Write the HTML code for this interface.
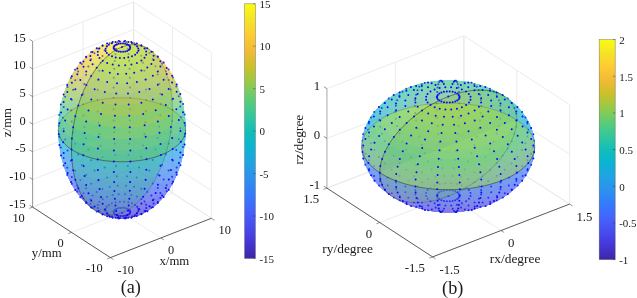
<!DOCTYPE html>
<html><head><meta charset="utf-8"><title>figure</title>
<style>html,body{margin:0;padding:0;background:#fff}svg{display:block}</style></head>
<body>
<svg width="637" height="298" viewBox="0 0 637 298" font-family="'Liberation Serif', 'Times New Roman', serif" fill="#1a1a1a">
<rect width="637" height="298" fill="#fff"/>
<path d="M32.6 207.1L133.6 167.8M133.6 167.8L211.4 218.3M32.6 179.5L133.6 140.2M133.6 140.2L211.4 190.7M32.6 151.8L133.6 112.5M133.6 112.5L211.4 163M32.6 124.2L133.6 84.9M133.6 84.9L211.4 135.4M32.6 96.6L133.6 57.3M133.6 57.3L211.4 107.8M32.6 68.9L133.6 29.6M133.6 29.6L211.4 80.1M32.6 41.3L133.6 2M133.6 2L211.4 52.5M32.6 207.1L32.6 41.3M110.4 257.6L32.6 207.1M83.1 187.5L83.1 21.6M160.9 238L83.1 187.5M133.6 167.8L133.6 2M211.4 218.3L133.6 167.8M211.4 218.3L211.4 52.5M110.4 257.6L211.4 218.3M172.5 193.1L172.5 27.2M71.5 232.4L172.5 193.1M133.6 167.8L133.6 2M32.6 207.1L133.6 167.8" stroke="#e6e6e6" stroke-width="0.75" fill="none"/>
<path d="M32.60 41.29L32.60 207.10" stroke="#8e8e8e" stroke-width="0.9" fill="none"/>
<path d="M32.60 207.10L110.40 257.60L211.35 218.30" stroke="#262626" stroke-width="0.9" fill="none" stroke-opacity="0.8"/>
<path d="M32.60 207.10L29.58 205.14M32.60 179.47L29.58 177.50M32.60 151.83L29.58 149.87M32.60 124.20L29.58 122.23M32.60 96.56L29.58 94.60M32.60 68.93L29.58 66.96M32.60 41.29L29.58 39.33M110.40 257.60L107.05 258.91M71.50 232.35L68.15 233.66M32.60 207.10L29.25 208.41M110.40 257.60L113.42 259.56M160.88 237.95L163.89 239.91M211.35 218.30L214.37 220.26" stroke="#262626" stroke-width="0.7" fill="none" stroke-opacity="0.7"/>
<g opacity="0.42" stroke-width="0.6" stroke-linejoin="round"><g transform="matrix(50.4750 -19.6500 -38.9000 -25.2500 121.975 129.795)"><circle cx="1.5809" cy="2.0513" r="0.0327" fill="#f9f916"/><circle cx="1.5818" cy="2.0524" r="0.0005" fill="#f9f916"/><circle cx="1.5784" cy="2.0480" r="0.0654" fill="#f9f916"/><circle cx="1.5809" cy="2.0513" r="0.0327" fill="#f9f916"/><circle cx="1.5741" cy="2.0425" r="0.0980" fill="#f9f916"/><circle cx="1.5784" cy="2.0480" r="0.0654" fill="#f9f916"/><circle cx="1.5682" cy="2.0349" r="0.1305" fill="#f9f916"/><circle cx="1.5741" cy="2.0425" r="0.0980" fill="#f9f916"/><circle cx="1.5606" cy="2.0250" r="0.1629" fill="#f7f51c"/><circle cx="1.5682" cy="2.0349" r="0.1305" fill="#f7f51c"/><circle cx="1.5514" cy="2.0130" r="0.1951" fill="#f7f51c"/><circle cx="1.5606" cy="2.0250" r="0.1629" fill="#f7f51c"/><circle cx="1.5404" cy="1.9988" r="0.2271" fill="#f7f51c"/><circle cx="1.5514" cy="2.0130" r="0.1951" fill="#f7f51c"/><circle cx="1.5279" cy="1.9825" r="0.2588" fill="#f7f51c"/><circle cx="1.5404" cy="1.9988" r="0.2271" fill="#f7f51c"/><circle cx="1.5136" cy="1.9640" r="0.2903" fill="#f5ed22"/><circle cx="1.5279" cy="1.9825" r="0.2588" fill="#f5ed22"/><circle cx="1.4978" cy="1.9435" r="0.3214" fill="#f5ed22"/><circle cx="1.5136" cy="1.9640" r="0.2903" fill="#f5ed22"/><circle cx="1.4804" cy="1.9209" r="0.3523" fill="#f5ed22"/><circle cx="1.4978" cy="1.9435" r="0.3214" fill="#f5ed22"/><circle cx="1.4614" cy="1.8962" r="0.3827" fill="#f5ed22"/><circle cx="1.4804" cy="1.9209" r="0.3523" fill="#f5ed22"/><circle cx="1.4408" cy="1.8695" r="0.4127" fill="#f5e128"/><circle cx="1.4614" cy="1.8962" r="0.3827" fill="#f5e128"/><circle cx="1.4186" cy="1.8408" r="0.4423" fill="#f5e128"/><circle cx="1.4408" cy="1.8695" r="0.4127" fill="#f5e128"/><circle cx="1.3950" cy="1.8101" r="0.4714" fill="#f5e128"/><circle cx="1.4186" cy="1.8408" r="0.4423" fill="#f5e128"/><circle cx="1.3698" cy="1.7774" r="0.5000" fill="#f5e128"/><circle cx="1.3950" cy="1.8101" r="0.4714" fill="#f5e128"/><circle cx="1.3432" cy="1.7429" r="0.5281" fill="#fbd32f"/><circle cx="1.3698" cy="1.7774" r="0.5000" fill="#fbd32f"/><circle cx="1.3152" cy="1.7065" r="0.5556" fill="#fbd32f"/><circle cx="1.3432" cy="1.7429" r="0.5281" fill="#fbd32f"/><circle cx="1.2857" cy="1.6683" r="0.5825" fill="#fbd32f"/><circle cx="1.3152" cy="1.7065" r="0.5556" fill="#fbd32f"/><circle cx="1.2549" cy="1.6283" r="0.6088" fill="#fbd32f"/><circle cx="1.2857" cy="1.6683" r="0.5825" fill="#fbd32f"/><circle cx="1.2227" cy="1.5865" r="0.6344" fill="#fec239"/><circle cx="1.2549" cy="1.6283" r="0.6088" fill="#fec239"/><circle cx="1.1892" cy="1.5431" r="0.6593" fill="#fec239"/><circle cx="1.2227" cy="1.5865" r="0.6344" fill="#fec239"/><circle cx="1.1545" cy="1.4980" r="0.6836" fill="#fec239"/><circle cx="1.1892" cy="1.5431" r="0.6593" fill="#fec239"/><circle cx="1.1185" cy="1.4513" r="0.7071" fill="#fec239"/><circle cx="1.1545" cy="1.4980" r="0.6836" fill="#fec239"/><circle cx="1.0813" cy="1.4030" r="0.7299" fill="#edba33"/><circle cx="1.1185" cy="1.4513" r="0.7071" fill="#edba33"/><circle cx="1.0429" cy="1.3533" r="0.7518" fill="#edba33"/><circle cx="1.0813" cy="1.4030" r="0.7299" fill="#edba33"/><circle cx="1.0035" cy="1.3020" r="0.7730" fill="#edba33"/><circle cx="1.0429" cy="1.3533" r="0.7518" fill="#edba33"/><circle cx="0.9629" cy="1.2494" r="0.7934" fill="#edba33"/><circle cx="1.0035" cy="1.3020" r="0.7730" fill="#edba33"/><circle cx="0.9213" cy="1.1955" r="0.8128" fill="#c8c129"/><circle cx="0.9629" cy="1.2494" r="0.7934" fill="#c8c129"/><circle cx="0.8788" cy="1.1403" r="0.8315" fill="#c8c129"/><circle cx="0.9213" cy="1.1955" r="0.8128" fill="#c8c129"/><circle cx="0.8353" cy="1.0838" r="0.8492" fill="#c8c129"/><circle cx="0.8788" cy="1.1403" r="0.8315" fill="#c8c129"/><circle cx="0.7909" cy="1.0262" r="0.8660" fill="#c8c129"/><circle cx="0.8353" cy="1.0838" r="0.8492" fill="#c8c129"/><circle cx="0.7456" cy="0.9675" r="0.8819" fill="#97ca48"/><circle cx="0.7909" cy="1.0262" r="0.8660" fill="#97ca48"/><circle cx="0.6996" cy="0.9078" r="0.8969" fill="#97ca48"/><circle cx="0.7456" cy="0.9675" r="0.8819" fill="#97ca48"/><circle cx="0.6528" cy="0.8470" r="0.9109" fill="#97ca48"/><circle cx="0.6996" cy="0.9078" r="0.8969" fill="#97ca48"/><circle cx="0.6053" cy="0.7854" r="0.9239" fill="#97ca48"/><circle cx="0.6528" cy="0.8470" r="0.9109" fill="#97ca48"/><circle cx="0.5572" cy="0.7230" r="0.9359" fill="#5fcd73"/><circle cx="0.6053" cy="0.7854" r="0.9239" fill="#5fcd73"/><circle cx="0.5084" cy="0.6597" r="0.9469" fill="#5fcd73"/><circle cx="0.5572" cy="0.7230" r="0.9359" fill="#5fcd73"/><circle cx="0.4592" cy="0.5958" r="0.9569" fill="#5fcd73"/><circle cx="0.5084" cy="0.6597" r="0.9469" fill="#5fcd73"/><circle cx="0.4094" cy="0.5312" r="0.9659" fill="#5fcd73"/><circle cx="0.4592" cy="0.5958" r="0.9569" fill="#5fcd73"/><circle cx="0.3592" cy="0.4661" r="0.9739" fill="#35c79a"/><circle cx="0.4094" cy="0.5312" r="0.9659" fill="#35c79a"/><circle cx="0.3086" cy="0.4004" r="0.9808" fill="#35c79a"/><circle cx="0.3592" cy="0.4661" r="0.9739" fill="#35c79a"/><circle cx="0.2577" cy="0.3343" r="0.9866" fill="#35c79a"/><circle cx="0.3086" cy="0.4004" r="0.9808" fill="#35c79a"/><circle cx="0.2065" cy="0.2679" r="0.9914" fill="#35c79a"/><circle cx="0.2577" cy="0.3343" r="0.9866" fill="#35c79a"/><circle cx="0.1550" cy="0.2012" r="0.9952" fill="#12beb9"/><circle cx="0.2065" cy="0.2679" r="0.9914" fill="#12beb9"/><circle cx="0.1035" cy="0.1342" r="0.9979" fill="#12beb9"/><circle cx="0.1550" cy="0.2012" r="0.9952" fill="#12beb9"/><circle cx="0.0518" cy="0.0672" r="0.9995" fill="#12beb9"/><circle cx="0.1035" cy="0.1342" r="0.9979" fill="#12beb9"/><circle cx="0.0000" cy="0.0000" r="1.0000" fill="#12beb9"/><circle cx="0.0518" cy="0.0672" r="0.9995" fill="#12beb9"/><circle cx="-0.0518" cy="-0.0672" r="0.9995" fill="#0eb3d4"/><circle cx="0.0000" cy="0.0000" r="1.0000" fill="#0eb3d4"/><circle cx="-0.1035" cy="-0.1342" r="0.9979" fill="#0eb3d4"/><circle cx="-0.0518" cy="-0.0672" r="0.9995" fill="#0eb3d4"/><circle cx="-0.1550" cy="-0.2012" r="0.9952" fill="#0eb3d4"/><circle cx="-0.1035" cy="-0.1342" r="0.9979" fill="#0eb3d4"/><circle cx="-0.2065" cy="-0.2679" r="0.9914" fill="#0eb3d4"/><circle cx="-0.1550" cy="-0.2012" r="0.9952" fill="#0eb3d4"/><circle cx="-0.2577" cy="-0.3343" r="0.9866" fill="#22a2e4"/><circle cx="-0.2065" cy="-0.2679" r="0.9914" fill="#22a2e4"/><circle cx="-0.3086" cy="-0.4004" r="0.9808" fill="#22a2e4"/><circle cx="-0.2577" cy="-0.3343" r="0.9866" fill="#22a2e4"/><circle cx="-0.3592" cy="-0.4661" r="0.9739" fill="#22a2e4"/><circle cx="-0.3086" cy="-0.4004" r="0.9808" fill="#22a2e4"/><circle cx="-0.4094" cy="-0.5312" r="0.9659" fill="#22a2e4"/><circle cx="-0.3592" cy="-0.4661" r="0.9739" fill="#22a2e4"/><circle cx="-0.4592" cy="-0.5958" r="0.9569" fill="#2c8ff1"/><circle cx="-0.4094" cy="-0.5312" r="0.9659" fill="#2c8ff1"/><circle cx="-0.5084" cy="-0.6597" r="0.9469" fill="#2c8ff1"/><circle cx="-0.4592" cy="-0.5958" r="0.9569" fill="#2c8ff1"/><circle cx="-0.5572" cy="-0.7230" r="0.9359" fill="#2c8ff1"/><circle cx="-0.5084" cy="-0.6597" r="0.9469" fill="#2c8ff1"/><circle cx="-0.6053" cy="-0.7854" r="0.9239" fill="#2c8ff1"/><circle cx="-0.5572" cy="-0.7230" r="0.9359" fill="#2c8ff1"/><circle cx="-0.6528" cy="-0.8470" r="0.9109" fill="#347afd"/><circle cx="-0.6053" cy="-0.7854" r="0.9239" fill="#347afd"/><circle cx="-0.6996" cy="-0.9078" r="0.8969" fill="#347afd"/><circle cx="-0.6528" cy="-0.8470" r="0.9109" fill="#347afd"/><circle cx="-0.7456" cy="-0.9675" r="0.8819" fill="#347afd"/><circle cx="-0.6996" cy="-0.9078" r="0.8969" fill="#347afd"/><circle cx="-0.7909" cy="-1.0262" r="0.8660" fill="#347afd"/><circle cx="-0.7456" cy="-0.9675" r="0.8819" fill="#347afd"/><circle cx="-0.8353" cy="-1.0838" r="0.8492" fill="#4465fd"/><circle cx="-0.7909" cy="-1.0262" r="0.8660" fill="#4465fd"/><circle cx="-0.8788" cy="-1.1403" r="0.8315" fill="#4465fd"/><circle cx="-0.8353" cy="-1.0838" r="0.8492" fill="#4465fd"/><circle cx="-0.9213" cy="-1.1955" r="0.8128" fill="#4465fd"/><circle cx="-0.8788" cy="-1.1403" r="0.8315" fill="#4465fd"/><circle cx="-0.9629" cy="-1.2494" r="0.7934" fill="#4465fd"/><circle cx="-0.9213" cy="-1.1955" r="0.8128" fill="#4465fd"/><circle cx="-1.0035" cy="-1.3020" r="0.7730" fill="#4854f5"/><circle cx="-0.9629" cy="-1.2494" r="0.7934" fill="#4854f5"/><circle cx="-1.0429" cy="-1.3533" r="0.7518" fill="#4854f5"/><circle cx="-1.0035" cy="-1.3020" r="0.7730" fill="#4854f5"/><circle cx="-1.0813" cy="-1.4030" r="0.7299" fill="#4854f5"/><circle cx="-1.0429" cy="-1.3533" r="0.7518" fill="#4854f5"/><circle cx="-1.1185" cy="-1.4513" r="0.7071" fill="#4854f5"/><circle cx="-1.0813" cy="-1.4030" r="0.7299" fill="#4854f5"/><circle cx="-1.1545" cy="-1.4980" r="0.6836" fill="#4744e8"/><circle cx="-1.1185" cy="-1.4513" r="0.7071" fill="#4744e8"/><circle cx="-1.1892" cy="-1.5431" r="0.6593" fill="#4744e8"/><circle cx="-1.1545" cy="-1.4980" r="0.6836" fill="#4744e8"/><circle cx="-1.2227" cy="-1.5865" r="0.6344" fill="#4744e8"/><circle cx="-1.1892" cy="-1.5431" r="0.6593" fill="#4744e8"/><circle cx="-1.2549" cy="-1.6283" r="0.6088" fill="#4744e8"/><circle cx="-1.2227" cy="-1.5865" r="0.6344" fill="#4744e8"/><circle cx="-1.2857" cy="-1.6683" r="0.5825" fill="#4538d7"/><circle cx="-1.2549" cy="-1.6283" r="0.6088" fill="#4538d7"/><circle cx="-1.3152" cy="-1.7065" r="0.5556" fill="#4538d7"/><circle cx="-1.2857" cy="-1.6683" r="0.5825" fill="#4538d7"/><circle cx="-1.3432" cy="-1.7429" r="0.5281" fill="#4538d7"/><circle cx="-1.3152" cy="-1.7065" r="0.5556" fill="#4538d7"/><circle cx="-1.3698" cy="-1.7774" r="0.5000" fill="#4538d7"/><circle cx="-1.3432" cy="-1.7429" r="0.5281" fill="#4538d7"/><circle cx="-1.3950" cy="-1.8101" r="0.4714" fill="#4230c4"/><circle cx="-1.3698" cy="-1.7774" r="0.5000" fill="#4230c4"/><circle cx="-1.4186" cy="-1.8408" r="0.4423" fill="#4230c4"/><circle cx="-1.3950" cy="-1.8101" r="0.4714" fill="#4230c4"/><circle cx="-1.4408" cy="-1.8695" r="0.4127" fill="#4230c4"/><circle cx="-1.4186" cy="-1.8408" r="0.4423" fill="#4230c4"/><circle cx="-1.4614" cy="-1.8962" r="0.3827" fill="#4230c4"/><circle cx="-1.4408" cy="-1.8695" r="0.4127" fill="#4230c4"/><circle cx="-1.4804" cy="-1.9209" r="0.3523" fill="#402ab5"/><circle cx="-1.4614" cy="-1.8962" r="0.3827" fill="#402ab5"/><circle cx="-1.4978" cy="-1.9435" r="0.3214" fill="#402ab5"/><circle cx="-1.4804" cy="-1.9209" r="0.3523" fill="#402ab5"/><circle cx="-1.5136" cy="-1.9640" r="0.2903" fill="#402ab5"/><circle cx="-1.4978" cy="-1.9435" r="0.3214" fill="#402ab5"/><circle cx="-1.5279" cy="-1.9825" r="0.2588" fill="#402ab5"/><circle cx="-1.5136" cy="-1.9640" r="0.2903" fill="#402ab5"/><circle cx="-1.5404" cy="-1.9988" r="0.2271" fill="#3e27ac"/><circle cx="-1.5279" cy="-1.9825" r="0.2588" fill="#3e27ac"/><circle cx="-1.5514" cy="-2.0130" r="0.1951" fill="#3e27ac"/><circle cx="-1.5404" cy="-1.9988" r="0.2271" fill="#3e27ac"/><circle cx="-1.5606" cy="-2.0250" r="0.1629" fill="#3e27ac"/><circle cx="-1.5514" cy="-2.0130" r="0.1951" fill="#3e27ac"/><circle cx="-1.5682" cy="-2.0349" r="0.1305" fill="#3e27ac"/><circle cx="-1.5606" cy="-2.0250" r="0.1629" fill="#3e27ac"/><circle cx="-1.5741" cy="-2.0425" r="0.0980" fill="#3e26a8"/><circle cx="-1.5682" cy="-2.0349" r="0.1305" fill="#3e26a8"/><circle cx="-1.5784" cy="-2.0480" r="0.0654" fill="#3e26a8"/><circle cx="-1.5741" cy="-2.0425" r="0.0980" fill="#3e26a8"/><circle cx="-1.5809" cy="-2.0513" r="0.0327" fill="#3e26a8"/><circle cx="-1.5784" cy="-2.0480" r="0.0654" fill="#3e26a8"/><circle cx="-1.5818" cy="-2.0524" r="0.0005" fill="#3e26a8"/><circle cx="-1.5809" cy="-2.0513" r="0.0327" fill="#3e26a8"/></g></g>
<g fill="#0a0af5"><circle cx="122" cy="212.7" r="1.0"/><circle cx="115.4" cy="214.6" r="1.0"/><circle cx="116.9" cy="215.3" r="1.0"/><circle cx="118.8" cy="215.9" r="1.0"/><circle cx="120.9" cy="216.1" r="1.0"/><circle cx="123.1" cy="216.1" r="1.0"/><circle cx="125.2" cy="215.8" r="1.0"/><circle cx="127.1" cy="215.3" r="1.0"/><circle cx="128.6" cy="214.5" r="1.0"/><circle cx="129.7" cy="213.6" r="1.0"/><circle cx="130.2" cy="212.5" r="1.0"/><circle cx="130.2" cy="211.4" r="1.0"/><circle cx="129.7" cy="210.4" r="1.0"/><circle cx="128.6" cy="209.4" r="1.0"/><circle cx="127" cy="208.7" r="1.0"/><circle cx="125.1" cy="208.1" r="1.0"/><circle cx="123" cy="207.8" r="1.0"/><circle cx="120.9" cy="207.9" r="1.0"/><circle cx="118.8" cy="208.1" r="1.0"/><circle cx="116.9" cy="208.7" r="1.0"/><circle cx="115.4" cy="209.5" r="1.0"/><circle cx="114.3" cy="210.4" r="1.0"/><circle cx="113.7" cy="211.5" r="1.0"/><circle cx="113.7" cy="212.6" r="1.0"/><circle cx="114.3" cy="213.6" r="1.0"/><circle cx="108.9" cy="215" r="1.0"/><circle cx="112" cy="216.5" r="1.0"/><circle cx="115.7" cy="217.5" r="1.0"/><circle cx="119.9" cy="218.1" r="1.0"/><circle cx="124.2" cy="218.1" r="1.0"/><circle cx="128.3" cy="217.5" r="1.0"/><circle cx="132" cy="216.4" r="1.0"/><circle cx="135.1" cy="214.9" r="1.0"/><circle cx="137.2" cy="213" r="1.0"/><circle cx="138.3" cy="210.9" r="1.0"/><circle cx="138.3" cy="208.7" r="1.0"/><circle cx="137.2" cy="206.7" r="1.0"/><circle cx="135" cy="204.8" r="1.0"/><circle cx="132" cy="203.3" r="1.0"/><circle cx="128.3" cy="202.2" r="1.0"/><circle cx="124.1" cy="201.7" r="1.0"/><circle cx="119.8" cy="201.7" r="1.0"/><circle cx="115.6" cy="202.2" r="1.0"/><circle cx="111.9" cy="203.3" r="1.0"/><circle cx="108.9" cy="204.9" r="1.0"/><circle cx="106.7" cy="206.8" r="1.0"/><circle cx="105.6" cy="208.9" r="1.0"/><circle cx="105.6" cy="211" r="1.0"/><circle cx="106.8" cy="213.1" r="1.0"/><circle cx="102.7" cy="213.9" r="1.0"/><circle cx="107.2" cy="216.2" r="1.0"/><circle cx="112.7" cy="217.7" r="1.0"/><circle cx="131.4" cy="217.7" r="1.0"/><circle cx="136.9" cy="216.1" r="1.0"/><circle cx="141.4" cy="213.8" r="1.0"/><circle cx="144.5" cy="211" r="1.0"/><circle cx="146.2" cy="207.9" r="1.0"/><circle cx="146.1" cy="204.7" r="1.0"/><circle cx="144.5" cy="201.6" r="1.0"/><circle cx="141.3" cy="198.9" r="1.0"/><circle cx="136.8" cy="196.6" r="1.0"/><circle cx="131.3" cy="195" r="1.0"/><circle cx="125.1" cy="194.2" r="1.0"/><circle cx="118.7" cy="194.3" r="1.0"/><circle cx="112.6" cy="195.1" r="1.0"/><circle cx="107.1" cy="196.7" r="1.0"/><circle cx="102.6" cy="199" r="1.0"/><circle cx="99.4" cy="201.8" r="1.0"/><circle cx="97.8" cy="204.9" r="1.0"/><circle cx="97.8" cy="208.1" r="1.0"/><circle cx="99.5" cy="211.2" r="1.0"/><circle cx="96.7" cy="211.4" r="1.0"/><circle cx="147.3" cy="211.2" r="1.0"/><circle cx="151.4" cy="207.6" r="1.0"/><circle cx="153.6" cy="203.6" r="1.0"/><circle cx="153.6" cy="199.4" r="1.0"/><circle cx="151.4" cy="195.4" r="1.0"/><circle cx="147.2" cy="191.8" r="1.0"/><circle cx="141.3" cy="188.8" r="1.0"/><circle cx="134.1" cy="186.8" r="1.0"/><circle cx="126.1" cy="185.7" r="1.0"/><circle cx="117.7" cy="185.7" r="1.0"/><circle cx="109.7" cy="186.9" r="1.0"/><circle cx="102.5" cy="189" r="1.0"/><circle cx="96.7" cy="191.9" r="1.0"/><circle cx="92.5" cy="195.6" r="1.0"/><circle cx="90.4" cy="199.6" r="1.0"/><circle cx="90.4" cy="203.8" r="1.0"/><circle cx="92.6" cy="207.8" r="1.0"/><circle cx="157.8" cy="202.9" r="1.0"/><circle cx="160.4" cy="198" r="1.0"/><circle cx="160.4" cy="192.9" r="1.0"/><circle cx="157.8" cy="188" r="1.0"/><circle cx="152.7" cy="183.6" r="1.0"/><circle cx="145.5" cy="180" r="1.0"/><circle cx="136.7" cy="177.5" r="1.0"/><circle cx="127" cy="176.2" r="1.0"/><circle cx="116.8" cy="176.3" r="1.0"/><circle cx="107.1" cy="177.6" r="1.0"/><circle cx="98.3" cy="180.2" r="1.0"/><circle cx="91.1" cy="183.8" r="1.0"/><circle cx="86.1" cy="188.2" r="1.0"/><circle cx="83.5" cy="193.2" r="1.0"/><circle cx="83.5" cy="198.2" r="1.0"/><circle cx="86.2" cy="203.1" r="1.0"/><circle cx="163.6" cy="196.9" r="1.0"/><circle cx="166.7" cy="191.2" r="1.0"/><circle cx="166.6" cy="185.3" r="1.0"/><circle cx="163.6" cy="179.6" r="1.0"/><circle cx="157.7" cy="174.5" r="1.0"/><circle cx="149.3" cy="170.4" r="1.0"/><circle cx="139.1" cy="167.5" r="1.0"/><circle cx="127.8" cy="166" r="1.0"/><circle cx="116" cy="166" r="1.0"/><circle cx="104.6" cy="167.6" r="1.0"/><circle cx="94.5" cy="170.6" r="1.0"/><circle cx="86.2" cy="174.8" r="1.0"/><circle cx="80.3" cy="179.9" r="1.0"/><circle cx="77.3" cy="185.6" r="1.0"/><circle cx="77.3" cy="191.5" r="1.0"/><circle cx="80.4" cy="197.2" r="1.0"/><circle cx="172.1" cy="183.4" r="1.0"/><circle cx="172.1" cy="176.8" r="1.0"/><circle cx="168.6" cy="170.4" r="1.0"/><circle cx="162" cy="164.7" r="1.0"/><circle cx="152.7" cy="160" r="1.0"/><circle cx="141.2" cy="156.7" r="1.0"/><circle cx="128.5" cy="155.1" r="1.0"/><circle cx="115.3" cy="155.1" r="1.0"/><circle cx="102.5" cy="156.9" r="1.0"/><circle cx="91.1" cy="160.2" r="1.0"/><circle cx="81.8" cy="164.9" r="1.0"/><circle cx="75.2" cy="170.7" r="1.0"/><circle cx="71.8" cy="177.1" r="1.0"/><circle cx="71.9" cy="183.7" r="1.0"/><circle cx="176.7" cy="174.7" r="1.0"/><circle cx="176.7" cy="167.4" r="1.0"/><circle cx="172.9" cy="160.5" r="1.0"/><circle cx="165.7" cy="154.2" r="1.0"/><circle cx="155.5" cy="149.2" r="1.0"/><circle cx="143" cy="145.6" r="1.0"/><circle cx="129.1" cy="143.8" r="1.0"/><circle cx="114.7" cy="143.8" r="1.0"/><circle cx="100.7" cy="145.7" r="1.0"/><circle cx="88.3" cy="149.4" r="1.0"/><circle cx="78.1" cy="154.5" r="1.0"/><circle cx="70.9" cy="160.8" r="1.0"/><circle cx="67.2" cy="167.8" r="1.0"/><circle cx="67.3" cy="175.1" r="1.0"/><circle cx="180.4" cy="165.2" r="1.0"/><circle cx="180.3" cy="157.5" r="1.0"/><circle cx="176.3" cy="150" r="1.0"/><circle cx="168.6" cy="143.4" r="1.0"/><circle cx="157.7" cy="137.9" r="1.0"/><circle cx="144.4" cy="134.1" r="1.0"/><circle cx="129.5" cy="132.2" r="1.0"/><circle cx="114.2" cy="132.2" r="1.0"/><circle cx="99.3" cy="134.3" r="1.0"/><circle cx="86" cy="138.2" r="1.0"/><circle cx="75.2" cy="143.7" r="1.0"/><circle cx="67.5" cy="150.4" r="1.0"/><circle cx="63.6" cy="157.9" r="1.0"/><circle cx="63.6" cy="165.6" r="1.0"/><circle cx="183" cy="147" r="1.0"/><circle cx="178.8" cy="139.2" r="1.0"/><circle cx="170.7" cy="132.3" r="1.0"/><circle cx="159.3" cy="126.6" r="1.0"/><circle cx="145.4" cy="122.6" r="1.0"/><circle cx="129.9" cy="120.6" r="1.0"/><circle cx="113.8" cy="120.6" r="1.0"/><circle cx="98.3" cy="122.8" r="1.0"/><circle cx="84.4" cy="126.9" r="1.0"/><circle cx="73.1" cy="132.6" r="1.0"/><circle cx="65.1" cy="139.6" r="1.0"/><circle cx="60.9" cy="147.4" r="1.0"/><circle cx="184.6" cy="136.3" r="1.0"/><circle cx="180.3" cy="128.3" r="1.0"/><circle cx="172" cy="121.1" r="1.0"/><circle cx="160.3" cy="115.3" r="1.0"/><circle cx="146" cy="111.2" r="1.0"/><circle cx="130.1" cy="109.1" r="1.0"/><circle cx="113.6" cy="109.2" r="1.0"/><circle cx="97.7" cy="111.4" r="1.0"/><circle cx="83.4" cy="115.6" r="1.0"/><circle cx="71.8" cy="121.5" r="1.0"/><circle cx="63.6" cy="128.7" r="1.0"/><circle cx="59.3" cy="136.7" r="1.0"/><circle cx="185.1" cy="125.4" r="1.0"/><circle cx="180.8" cy="117.3" r="1.0"/><circle cx="172.5" cy="110.1" r="1.0"/><circle cx="160.7" cy="104.3" r="1.0"/><circle cx="146.2" cy="100.2" r="1.0"/><circle cx="130.2" cy="98" r="1.0"/><circle cx="113.5" cy="98.1" r="1.0"/><circle cx="97.5" cy="100.3" r="1.0"/><circle cx="83.1" cy="104.5" r="1.0"/><circle cx="71.3" cy="110.5" r="1.0"/><circle cx="63" cy="117.8" r="1.0"/><circle cx="58.8" cy="125.8" r="1.0"/><circle cx="184.6" cy="114.6" r="1.0"/><circle cx="180.3" cy="106.6" r="1.0"/><circle cx="172" cy="99.5" r="1.0"/><circle cx="160.3" cy="93.7" r="1.0"/><circle cx="146" cy="89.6" r="1.0"/><circle cx="130.1" cy="87.5" r="1.0"/><circle cx="113.6" cy="87.6" r="1.0"/><circle cx="97.7" cy="89.8" r="1.0"/><circle cx="83.4" cy="93.9" r="1.0"/><circle cx="71.8" cy="99.8" r="1.0"/><circle cx="63.6" cy="107" r="1.0"/><circle cx="59.3" cy="115" r="1.0"/><circle cx="183" cy="104.1" r="1.0"/><circle cx="178.8" cy="96.3" r="1.0"/><circle cx="170.7" cy="89.4" r="1.0"/><circle cx="159.3" cy="83.7" r="1.0"/><circle cx="145.4" cy="79.7" r="1.0"/><circle cx="129.9" cy="77.7" r="1.0"/><circle cx="113.8" cy="77.7" r="1.0"/><circle cx="98.3" cy="79.9" r="1.0"/><circle cx="84.4" cy="83.9" r="1.0"/><circle cx="73.1" cy="89.7" r="1.0"/><circle cx="65.1" cy="96.7" r="1.0"/><circle cx="60.9" cy="104.5" r="1.0"/><circle cx="176.3" cy="86.6" r="1.0"/><circle cx="168.6" cy="79.9" r="1.0"/><circle cx="157.7" cy="74.5" r="1.0"/><circle cx="144.4" cy="70.7" r="1.0"/><circle cx="129.5" cy="68.7" r="1.0"/><circle cx="114.2" cy="68.8" r="1.0"/><circle cx="99.3" cy="70.8" r="1.0"/><circle cx="86" cy="74.7" r="1.0"/><circle cx="75.2" cy="80.2" r="1.0"/><circle cx="67.5" cy="86.9" r="1.0"/><circle cx="172.9" cy="77.6" r="1.0"/><circle cx="165.7" cy="71.3" r="1.0"/><circle cx="155.5" cy="66.2" r="1.0"/><circle cx="143" cy="62.7" r="1.0"/><circle cx="129.1" cy="60.8" r="1.0"/><circle cx="114.7" cy="60.9" r="1.0"/><circle cx="100.7" cy="62.8" r="1.0"/><circle cx="88.3" cy="66.5" r="1.0"/><circle cx="78.1" cy="71.6" r="1.0"/><circle cx="70.9" cy="77.9" r="1.0"/><circle cx="168.6" cy="69.5" r="1.0"/><circle cx="162" cy="63.7" r="1.0"/><circle cx="152.7" cy="59.1" r="1.0"/><circle cx="141.2" cy="55.8" r="1.0"/><circle cx="128.5" cy="54.1" r="1.0"/><circle cx="115.3" cy="54.2" r="1.0"/><circle cx="102.5" cy="55.9" r="1.0"/><circle cx="91.1" cy="59.3" r="1.0"/><circle cx="81.8" cy="64" r="1.0"/><circle cx="75.2" cy="69.8" r="1.0"/><circle cx="157.7" cy="57.3" r="1.0"/><circle cx="149.3" cy="53.1" r="1.0"/><circle cx="139.1" cy="50.2" r="1.0"/><circle cx="127.8" cy="48.7" r="1.0"/><circle cx="116" cy="48.8" r="1.0"/><circle cx="104.6" cy="50.3" r="1.0"/><circle cx="94.5" cy="53.3" r="1.0"/><circle cx="86.2" cy="57.5" r="1.0"/><circle cx="152.7" cy="52.1" r="1.0"/><circle cx="145.5" cy="48.5" r="1.0"/><circle cx="136.7" cy="46" r="1.0"/><circle cx="127" cy="44.7" r="1.0"/><circle cx="116.8" cy="44.7" r="1.0"/><circle cx="107.1" cy="46.1" r="1.0"/><circle cx="98.3" cy="48.7" r="1.0"/><circle cx="91.1" cy="52.3" r="1.0"/><circle cx="141.3" cy="45.2" r="1.0"/><circle cx="134.1" cy="43.2" r="1.0"/><circle cx="126.1" cy="42.1" r="1.0"/><circle cx="117.7" cy="42.2" r="1.0"/><circle cx="109.7" cy="43.3" r="1.0"/><circle cx="102.5" cy="45.4" r="1.0"/><circle cx="125.1" cy="41.1" r="1.0"/><circle cx="118.7" cy="41.1" r="1.0"/></g>
<polygon points="172.5,110.1 166.9,107 160.7,104.3 153.7,102 146.2,100.2 138.3,98.8 130.2,98 121.8,97.8 113.5,98.1 105.4,98.9 97.5,100.3 90,102.2 83.1,104.5 76.8,107.3 71.3,110.5 66.7,114 63,117.8 60.4,121.7 58.8,125.8 58.2,130 58.8,134.2 60.5,138.3 63.2,142.2 66.9,146 71.5,149.4" fill="#9fc942" fill-opacity="0.48"/><polygon points="172.5,110.1 172,99.5 170.7,89.4 168.6,79.9 165.7,71.3 162,63.7 157.7,57.3 152.7,52.1 147.2,48.2 141.3,45.7 135,44.6 128.6,45 122,46.9 115.4,50.2 108.9,54.8 102.7,60.7 96.7,67.8 91.2,76 86.3,85.1 81.9,94.9 78.3,105.4 75.3,116.2 73.2,127.3 71.9,138.5 71.5,149.4 71.9,160.1 73.2,170.2 75.3,179.7 78.3,188.3 81.9,195.9 86.3,202.3 91.2,207.5 96.7,211.4 102.7,213.9 108.9,215 115.4,214.6 122,212.7 128.6,209.4 135,204.8 141.3,198.9 147.2,191.8 152.7,183.6 157.7,174.5 162,164.7 165.7,154.2 168.6,143.4 170.7,132.3 172,121.1" fill="#58cc79" fill-opacity="0.46"/><polygon points="172.3,109.9 177.1,113.6 180.8,117.3 183.5,121.3 185.1,125.4 185.7,129.6 185.2,133.8 183.6,137.9 180.9,141.8 177.2,145.6 172.6,149.1 167.1,152.3 160.9,155 154,157.4 146.5,159.3 138.6,160.6 130.4,161.5 122.1,161.8 113.8,161.5 105.6,160.8 97.7,159.4 90.2,157.6 83.3,155.3 77,152.6 71.4,149.2" fill="#9fc942" fill-opacity="0.48"/>
<path d="M172.5 110.1L172.3 104.8M172.3 104.8L172 99.5M172 99.5L171.5 94.3M171.5 94.3L170.7 89.4M170.7 89.4L169.8 84.5M169.8 84.5L168.6 79.9M168.6 79.9L167.2 75.5M167.2 75.5L165.7 71.3M165.7 71.3L163.9 67.4M163.9 67.4L162 63.7M162 63.7L159.9 60.4M159.9 60.4L157.7 57.3M157.7 57.3L155.3 54.5M155.3 54.5L152.7 52.1M152.7 52.1L150 49.9M93.9 209.6L96.7 211.4M96.7 211.4L99.7 212.8M99.7 212.8L102.7 213.9M102.7 213.9L105.8 214.6M105.8 214.6L108.9 215M108.9 215L112.1 214.9M112.1 214.9L115.4 214.6M115.4 214.6L118.7 213.8M118.7 213.8L122 212.7M122 212.7L125.3 211.2M125.3 211.2L128.6 209.4M128.6 209.4L131.8 207.3M131.8 207.3L135 204.8M135 204.8L138.2 202M138.2 202L141.3 198.9M141.3 198.9L144.3 195.5M144.3 195.5L147.2 191.8M147.2 191.8L150 187.8M150 187.8L152.7 183.6M152.7 183.6L155.3 179.2M155.3 179.2L157.7 174.5M157.7 174.5L159.9 169.7M159.9 169.7L162 164.7M162 164.7L163.9 159.5M163.9 159.5L165.7 154.2M165.7 154.2L167.2 148.8M167.2 148.8L168.6 143.4M168.6 143.4L169.8 137.8M169.8 137.8L170.7 132.3M170.7 132.3L171.5 126.7M171.5 126.7L172 121.1M172 121.1L172.3 115.6M172.3 115.6L172.5 110.1M172.5 110.1L169.8 108.5M169.8 108.5L166.9 107M166.9 107L163.9 105.6M163.9 105.6L160.7 104.3M160.7 104.3L157.3 103.1M157.3 103.1L153.7 102M153.7 102L150 101M150 101L146.2 100.2M146.2 100.2L142.3 99.4M142.3 99.4L138.3 98.8M138.3 98.8L134.3 98.4M134.3 98.4L130.2 98M130.2 98L126 97.9M126 97.9L121.8 97.8M121.8 97.8L117.7 97.9M117.7 97.9L113.5 98.1M113.5 98.1L109.4 98.5M109.4 98.5L105.4 98.9M105.4 98.9L101.4 99.6M101.4 99.6L97.5 100.3M97.5 100.3L93.7 101.2M93.7 101.2L90 102.2M90 102.2L86.5 103.3M86.5 103.3L83.1 104.5M83.1 104.5L79.9 105.9M79.9 105.9L76.8 107.3M76.8 107.3L74 108.9M74 108.9L71.3 110.5M71.3 110.5L68.9 112.2M68.9 112.2L66.7 114M66.7 114L64.8 115.8M64.8 115.8L63 117.8M63 117.8L61.6 119.7M61.6 119.7L60.4 121.7M60.4 121.7L59.4 123.8M59.4 123.8L58.8 125.8M58.8 125.8L58.4 127.9M58.4 127.9L58.2 130M185.7 129.6L185.6 127.5M185.6 127.5L185.1 125.4M185.1 125.4L184.4 123.3M184.4 123.3L183.5 121.3M183.5 121.3L182.3 119.3M182.3 119.3L180.8 117.3M180.8 117.3L179.1 115.4M179.1 115.4L177.1 113.6M177.1 113.6L174.9 111.8M174.9 111.8L172.5 110.1" stroke="rgba(50,55,20,0.5)" stroke-width="0.7" fill="none"/>
<g opacity="0.42" stroke-width="0.6" stroke-linejoin="round"><g transform="matrix(50.4750 -19.6500 -38.9000 -25.2500 121.975 129.795)"><circle cx="-1.5818" cy="-2.0524" r="0.0005" fill="#3e26a8"/><circle cx="-1.5809" cy="-2.0513" r="0.0327" fill="#3e26a8"/><circle cx="-1.5809" cy="-2.0513" r="0.0327" fill="#3e26a8"/><circle cx="-1.5784" cy="-2.0480" r="0.0654" fill="#3e26a8"/><circle cx="-1.5784" cy="-2.0480" r="0.0654" fill="#3e26a8"/><circle cx="-1.5741" cy="-2.0425" r="0.0980" fill="#3e26a8"/><circle cx="-1.5741" cy="-2.0425" r="0.0980" fill="#3e26a8"/><circle cx="-1.5682" cy="-2.0349" r="0.1305" fill="#3e26a8"/><circle cx="-1.5682" cy="-2.0349" r="0.1305" fill="#3e27ac"/><circle cx="-1.5606" cy="-2.0250" r="0.1629" fill="#3e27ac"/><circle cx="-1.5606" cy="-2.0250" r="0.1629" fill="#3e27ac"/><circle cx="-1.5514" cy="-2.0130" r="0.1951" fill="#3e27ac"/><circle cx="-1.5514" cy="-2.0130" r="0.1951" fill="#3e27ac"/><circle cx="-1.5404" cy="-1.9988" r="0.2271" fill="#3e27ac"/><circle cx="-1.5404" cy="-1.9988" r="0.2271" fill="#3e27ac"/><circle cx="-1.5279" cy="-1.9825" r="0.2588" fill="#3e27ac"/><circle cx="-1.5279" cy="-1.9825" r="0.2588" fill="#402ab5"/><circle cx="-1.5136" cy="-1.9640" r="0.2903" fill="#402ab5"/><circle cx="-1.5136" cy="-1.9640" r="0.2903" fill="#402ab5"/><circle cx="-1.4978" cy="-1.9435" r="0.3214" fill="#402ab5"/><circle cx="-1.4978" cy="-1.9435" r="0.3214" fill="#402ab5"/><circle cx="-1.4804" cy="-1.9209" r="0.3523" fill="#402ab5"/><circle cx="-1.4804" cy="-1.9209" r="0.3523" fill="#402ab5"/><circle cx="-1.4614" cy="-1.8962" r="0.3827" fill="#402ab5"/><circle cx="-1.4614" cy="-1.8962" r="0.3827" fill="#4230c4"/><circle cx="-1.4408" cy="-1.8695" r="0.4127" fill="#4230c4"/><circle cx="-1.4408" cy="-1.8695" r="0.4127" fill="#4230c4"/><circle cx="-1.4186" cy="-1.8408" r="0.4423" fill="#4230c4"/><circle cx="-1.4186" cy="-1.8408" r="0.4423" fill="#4230c4"/><circle cx="-1.3950" cy="-1.8101" r="0.4714" fill="#4230c4"/><circle cx="-1.3950" cy="-1.8101" r="0.4714" fill="#4230c4"/><circle cx="-1.3698" cy="-1.7774" r="0.5000" fill="#4230c4"/><circle cx="-1.3698" cy="-1.7774" r="0.5000" fill="#4538d7"/><circle cx="-1.3432" cy="-1.7429" r="0.5281" fill="#4538d7"/><circle cx="-1.3432" cy="-1.7429" r="0.5281" fill="#4538d7"/><circle cx="-1.3152" cy="-1.7065" r="0.5556" fill="#4538d7"/><circle cx="-1.3152" cy="-1.7065" r="0.5556" fill="#4538d7"/><circle cx="-1.2857" cy="-1.6683" r="0.5825" fill="#4538d7"/><circle cx="-1.2857" cy="-1.6683" r="0.5825" fill="#4538d7"/><circle cx="-1.2549" cy="-1.6283" r="0.6088" fill="#4538d7"/><circle cx="-1.2549" cy="-1.6283" r="0.6088" fill="#4744e8"/><circle cx="-1.2227" cy="-1.5865" r="0.6344" fill="#4744e8"/><circle cx="-1.2227" cy="-1.5865" r="0.6344" fill="#4744e8"/><circle cx="-1.1892" cy="-1.5431" r="0.6593" fill="#4744e8"/><circle cx="-1.1892" cy="-1.5431" r="0.6593" fill="#4744e8"/><circle cx="-1.1545" cy="-1.4980" r="0.6836" fill="#4744e8"/><circle cx="-1.1545" cy="-1.4980" r="0.6836" fill="#4744e8"/><circle cx="-1.1185" cy="-1.4513" r="0.7071" fill="#4744e8"/><circle cx="-1.1185" cy="-1.4513" r="0.7071" fill="#4854f5"/><circle cx="-1.0813" cy="-1.4030" r="0.7299" fill="#4854f5"/><circle cx="-1.0813" cy="-1.4030" r="0.7299" fill="#4854f5"/><circle cx="-1.0429" cy="-1.3533" r="0.7518" fill="#4854f5"/><circle cx="-1.0429" cy="-1.3533" r="0.7518" fill="#4854f5"/><circle cx="-1.0035" cy="-1.3020" r="0.7730" fill="#4854f5"/><circle cx="-1.0035" cy="-1.3020" r="0.7730" fill="#4854f5"/><circle cx="-0.9629" cy="-1.2494" r="0.7934" fill="#4854f5"/><circle cx="-0.9629" cy="-1.2494" r="0.7934" fill="#4465fd"/><circle cx="-0.9213" cy="-1.1955" r="0.8128" fill="#4465fd"/><circle cx="-0.9213" cy="-1.1955" r="0.8128" fill="#4465fd"/><circle cx="-0.8788" cy="-1.1403" r="0.8315" fill="#4465fd"/><circle cx="-0.8788" cy="-1.1403" r="0.8315" fill="#4465fd"/><circle cx="-0.8353" cy="-1.0838" r="0.8492" fill="#4465fd"/><circle cx="-0.8353" cy="-1.0838" r="0.8492" fill="#4465fd"/><circle cx="-0.7909" cy="-1.0262" r="0.8660" fill="#4465fd"/><circle cx="-0.7909" cy="-1.0262" r="0.8660" fill="#347afd"/><circle cx="-0.7456" cy="-0.9675" r="0.8819" fill="#347afd"/><circle cx="-0.7456" cy="-0.9675" r="0.8819" fill="#347afd"/><circle cx="-0.6996" cy="-0.9078" r="0.8969" fill="#347afd"/><circle cx="-0.6996" cy="-0.9078" r="0.8969" fill="#347afd"/><circle cx="-0.6528" cy="-0.8470" r="0.9109" fill="#347afd"/><circle cx="-0.6528" cy="-0.8470" r="0.9109" fill="#347afd"/><circle cx="-0.6053" cy="-0.7854" r="0.9239" fill="#347afd"/><circle cx="-0.6053" cy="-0.7854" r="0.9239" fill="#2c8ff1"/><circle cx="-0.5572" cy="-0.7230" r="0.9359" fill="#2c8ff1"/><circle cx="-0.5572" cy="-0.7230" r="0.9359" fill="#2c8ff1"/><circle cx="-0.5084" cy="-0.6597" r="0.9469" fill="#2c8ff1"/><circle cx="-0.5084" cy="-0.6597" r="0.9469" fill="#2c8ff1"/><circle cx="-0.4592" cy="-0.5958" r="0.9569" fill="#2c8ff1"/><circle cx="-0.4592" cy="-0.5958" r="0.9569" fill="#2c8ff1"/><circle cx="-0.4094" cy="-0.5312" r="0.9659" fill="#2c8ff1"/><circle cx="-0.4094" cy="-0.5312" r="0.9659" fill="#22a2e4"/><circle cx="-0.3592" cy="-0.4661" r="0.9739" fill="#22a2e4"/><circle cx="-0.3592" cy="-0.4661" r="0.9739" fill="#22a2e4"/><circle cx="-0.3086" cy="-0.4004" r="0.9808" fill="#22a2e4"/><circle cx="-0.3086" cy="-0.4004" r="0.9808" fill="#22a2e4"/><circle cx="-0.2577" cy="-0.3343" r="0.9866" fill="#22a2e4"/><circle cx="-0.2577" cy="-0.3343" r="0.9866" fill="#22a2e4"/><circle cx="-0.2065" cy="-0.2679" r="0.9914" fill="#22a2e4"/><circle cx="-0.2065" cy="-0.2679" r="0.9914" fill="#0eb3d4"/><circle cx="-0.1550" cy="-0.2012" r="0.9952" fill="#0eb3d4"/><circle cx="-0.1550" cy="-0.2012" r="0.9952" fill="#0eb3d4"/><circle cx="-0.1035" cy="-0.1342" r="0.9979" fill="#0eb3d4"/><circle cx="-0.1035" cy="-0.1342" r="0.9979" fill="#0eb3d4"/><circle cx="-0.0518" cy="-0.0672" r="0.9995" fill="#0eb3d4"/><circle cx="-0.0518" cy="-0.0672" r="0.9995" fill="#0eb3d4"/><circle cx="0.0000" cy="0.0000" r="1.0000" fill="#0eb3d4"/><circle cx="0.0000" cy="0.0000" r="1.0000" fill="#12beb9"/><circle cx="0.0518" cy="0.0672" r="0.9995" fill="#12beb9"/><circle cx="0.0518" cy="0.0672" r="0.9995" fill="#12beb9"/><circle cx="0.1035" cy="0.1342" r="0.9979" fill="#12beb9"/><circle cx="0.1035" cy="0.1342" r="0.9979" fill="#12beb9"/><circle cx="0.1550" cy="0.2012" r="0.9952" fill="#12beb9"/><circle cx="0.1550" cy="0.2012" r="0.9952" fill="#12beb9"/><circle cx="0.2065" cy="0.2679" r="0.9914" fill="#12beb9"/><circle cx="0.2065" cy="0.2679" r="0.9914" fill="#35c79a"/><circle cx="0.2577" cy="0.3343" r="0.9866" fill="#35c79a"/><circle cx="0.2577" cy="0.3343" r="0.9866" fill="#35c79a"/><circle cx="0.3086" cy="0.4004" r="0.9808" fill="#35c79a"/><circle cx="0.3086" cy="0.4004" r="0.9808" fill="#35c79a"/><circle cx="0.3592" cy="0.4661" r="0.9739" fill="#35c79a"/><circle cx="0.3592" cy="0.4661" r="0.9739" fill="#35c79a"/><circle cx="0.4094" cy="0.5312" r="0.9659" fill="#35c79a"/><circle cx="0.4094" cy="0.5312" r="0.9659" fill="#5fcd73"/><circle cx="0.4592" cy="0.5958" r="0.9569" fill="#5fcd73"/><circle cx="0.4592" cy="0.5958" r="0.9569" fill="#5fcd73"/><circle cx="0.5084" cy="0.6597" r="0.9469" fill="#5fcd73"/><circle cx="0.5084" cy="0.6597" r="0.9469" fill="#5fcd73"/><circle cx="0.5572" cy="0.7230" r="0.9359" fill="#5fcd73"/><circle cx="0.5572" cy="0.7230" r="0.9359" fill="#5fcd73"/><circle cx="0.6053" cy="0.7854" r="0.9239" fill="#5fcd73"/><circle cx="0.6053" cy="0.7854" r="0.9239" fill="#97ca48"/><circle cx="0.6528" cy="0.8470" r="0.9109" fill="#97ca48"/><circle cx="0.6528" cy="0.8470" r="0.9109" fill="#97ca48"/><circle cx="0.6996" cy="0.9078" r="0.8969" fill="#97ca48"/><circle cx="0.6996" cy="0.9078" r="0.8969" fill="#97ca48"/><circle cx="0.7456" cy="0.9675" r="0.8819" fill="#97ca48"/><circle cx="0.7456" cy="0.9675" r="0.8819" fill="#97ca48"/><circle cx="0.7909" cy="1.0262" r="0.8660" fill="#97ca48"/><circle cx="0.7909" cy="1.0262" r="0.8660" fill="#c8c129"/><circle cx="0.8353" cy="1.0838" r="0.8492" fill="#c8c129"/><circle cx="0.8353" cy="1.0838" r="0.8492" fill="#c8c129"/><circle cx="0.8788" cy="1.1403" r="0.8315" fill="#c8c129"/><circle cx="0.8788" cy="1.1403" r="0.8315" fill="#c8c129"/><circle cx="0.9213" cy="1.1955" r="0.8128" fill="#c8c129"/><circle cx="0.9213" cy="1.1955" r="0.8128" fill="#c8c129"/><circle cx="0.9629" cy="1.2494" r="0.7934" fill="#c8c129"/><circle cx="0.9629" cy="1.2494" r="0.7934" fill="#edba33"/><circle cx="1.0035" cy="1.3020" r="0.7730" fill="#edba33"/><circle cx="1.0035" cy="1.3020" r="0.7730" fill="#edba33"/><circle cx="1.0429" cy="1.3533" r="0.7518" fill="#edba33"/><circle cx="1.0429" cy="1.3533" r="0.7518" fill="#edba33"/><circle cx="1.0813" cy="1.4030" r="0.7299" fill="#edba33"/><circle cx="1.0813" cy="1.4030" r="0.7299" fill="#edba33"/><circle cx="1.1185" cy="1.4513" r="0.7071" fill="#edba33"/><circle cx="1.1185" cy="1.4513" r="0.7071" fill="#fec239"/><circle cx="1.1545" cy="1.4980" r="0.6836" fill="#fec239"/><circle cx="1.1545" cy="1.4980" r="0.6836" fill="#fec239"/><circle cx="1.1892" cy="1.5431" r="0.6593" fill="#fec239"/><circle cx="1.1892" cy="1.5431" r="0.6593" fill="#fec239"/><circle cx="1.2227" cy="1.5865" r="0.6344" fill="#fec239"/><circle cx="1.2227" cy="1.5865" r="0.6344" fill="#fec239"/><circle cx="1.2549" cy="1.6283" r="0.6088" fill="#fec239"/><circle cx="1.2549" cy="1.6283" r="0.6088" fill="#fbd32f"/><circle cx="1.2857" cy="1.6683" r="0.5825" fill="#fbd32f"/><circle cx="1.2857" cy="1.6683" r="0.5825" fill="#fbd32f"/><circle cx="1.3152" cy="1.7065" r="0.5556" fill="#fbd32f"/><circle cx="1.3152" cy="1.7065" r="0.5556" fill="#fbd32f"/><circle cx="1.3432" cy="1.7429" r="0.5281" fill="#fbd32f"/><circle cx="1.3432" cy="1.7429" r="0.5281" fill="#fbd32f"/><circle cx="1.3698" cy="1.7774" r="0.5000" fill="#fbd32f"/><circle cx="1.3698" cy="1.7774" r="0.5000" fill="#f5e128"/><circle cx="1.3950" cy="1.8101" r="0.4714" fill="#f5e128"/><circle cx="1.3950" cy="1.8101" r="0.4714" fill="#f5e128"/><circle cx="1.4186" cy="1.8408" r="0.4423" fill="#f5e128"/><circle cx="1.4186" cy="1.8408" r="0.4423" fill="#f5e128"/><circle cx="1.4408" cy="1.8695" r="0.4127" fill="#f5e128"/><circle cx="1.4408" cy="1.8695" r="0.4127" fill="#f5e128"/><circle cx="1.4614" cy="1.8962" r="0.3827" fill="#f5e128"/><circle cx="1.4614" cy="1.8962" r="0.3827" fill="#f5ed22"/><circle cx="1.4804" cy="1.9209" r="0.3523" fill="#f5ed22"/><circle cx="1.4804" cy="1.9209" r="0.3523" fill="#f5ed22"/><circle cx="1.4978" cy="1.9435" r="0.3214" fill="#f5ed22"/><circle cx="1.4978" cy="1.9435" r="0.3214" fill="#f5ed22"/><circle cx="1.5136" cy="1.9640" r="0.2903" fill="#f5ed22"/><circle cx="1.5136" cy="1.9640" r="0.2903" fill="#f5ed22"/><circle cx="1.5279" cy="1.9825" r="0.2588" fill="#f5ed22"/><circle cx="1.5279" cy="1.9825" r="0.2588" fill="#f7f51c"/><circle cx="1.5404" cy="1.9988" r="0.2271" fill="#f7f51c"/><circle cx="1.5404" cy="1.9988" r="0.2271" fill="#f7f51c"/><circle cx="1.5514" cy="2.0130" r="0.1951" fill="#f7f51c"/><circle cx="1.5514" cy="2.0130" r="0.1951" fill="#f7f51c"/><circle cx="1.5606" cy="2.0250" r="0.1629" fill="#f7f51c"/><circle cx="1.5606" cy="2.0250" r="0.1629" fill="#f7f51c"/><circle cx="1.5682" cy="2.0349" r="0.1305" fill="#f7f51c"/><circle cx="1.5682" cy="2.0349" r="0.1305" fill="#f9f916"/><circle cx="1.5741" cy="2.0425" r="0.0980" fill="#f9f916"/><circle cx="1.5741" cy="2.0425" r="0.0980" fill="#f9f916"/><circle cx="1.5784" cy="2.0480" r="0.0654" fill="#f9f916"/><circle cx="1.5784" cy="2.0480" r="0.0654" fill="#f9f916"/><circle cx="1.5809" cy="2.0513" r="0.0327" fill="#f9f916"/><circle cx="1.5809" cy="2.0513" r="0.0327" fill="#f9f916"/><circle cx="1.5818" cy="2.0524" r="0.0005" fill="#f9f916"/></g></g>
<path d="M150 49.9L147.2 48.2M147.2 48.2L144.3 46.7M144.3 46.7L141.3 45.7M141.3 45.7L138.2 45M138.2 45L135 44.6M135 44.6L131.8 44.6M131.8 44.6L128.6 45M128.6 45L125.3 45.8M125.3 45.8L122 46.9M122 46.9L118.7 48.4M118.7 48.4L115.4 50.2M115.4 50.2L112.1 52.3M112.1 52.3L108.9 54.8M108.9 54.8L105.8 57.6M105.8 57.6L102.7 60.7M102.7 60.7L99.7 64.1M99.7 64.1L96.7 67.8M96.7 67.8L93.9 71.8M93.9 71.8L91.2 76M91.2 76L88.7 80.4M88.7 80.4L86.3 85.1M86.3 85.1L84 89.9M84 89.9L81.9 94.9M81.9 94.9L80 100.1M80 100.1L78.3 105.4M78.3 105.4L76.7 110.8M76.7 110.8L75.3 116.2M75.3 116.2L74.2 121.8M74.2 121.8L73.2 127.3M73.2 127.3L72.5 132.9M72.5 132.9L71.9 138.5M71.9 138.5L71.6 144M71.6 144L71.5 149.4M71.5 149.4L71.6 154.8M71.6 154.8L71.9 160.1M71.9 160.1L72.5 165.2M72.5 165.2L73.2 170.2M73.2 170.2L74.2 175.1M74.2 175.1L75.3 179.7M75.3 179.7L76.7 184.1M76.7 184.1L78.3 188.3M78.3 188.3L80 192.2M80 192.2L81.9 195.9M81.9 195.9L84 199.2M84 199.2L86.3 202.3M86.3 202.3L88.7 205.1M88.7 205.1L91.2 207.5M91.2 207.5L93.9 209.6M58.2 130L58.4 132.1M58.4 132.1L58.8 134.2M58.8 134.2L59.5 136.3M59.5 136.3L60.5 138.3M60.5 138.3L61.7 140.3M61.7 140.3L63.2 142.2M63.2 142.2L64.9 144.1M64.9 144.1L66.9 146M66.9 146L69.1 147.8M69.1 147.8L71.5 149.4M71.5 149.4L74.2 151.1M74.2 151.1L77 152.6M77 152.6L80.1 154M80.1 154L83.3 155.3M83.3 155.3L86.7 156.5M86.7 156.5L90.2 157.6M90.2 157.6L93.9 158.6M93.9 158.6L97.7 159.4M97.7 159.4L101.6 160.2M101.6 160.2L105.6 160.8M105.6 160.8L109.7 161.2M109.7 161.2L113.8 161.5M113.8 161.5L117.9 161.7M117.9 161.7L122.1 161.8M122.1 161.8L126.3 161.7M126.3 161.7L130.4 161.5M130.4 161.5L134.5 161.1M134.5 161.1L138.6 160.6M138.6 160.6L142.6 160M142.6 160L146.5 159.3M146.5 159.3L150.3 158.4M150.3 158.4L154 157.4M154 157.4L157.5 156.3M157.5 156.3L160.9 155M160.9 155L164.1 153.7M164.1 153.7L167.1 152.3M167.1 152.3L170 150.7M170 150.7L172.6 149.1M172.6 149.1L175 147.4M175 147.4L177.2 145.6M177.2 145.6L179.2 143.8M179.2 143.8L180.9 141.8M180.9 141.8L182.4 139.9M182.4 139.9L183.6 137.9M183.6 137.9L184.5 135.8M184.5 135.8L185.2 133.8M185.2 133.8L185.6 131.7M185.6 131.7L185.7 129.6" stroke="rgba(35,40,25,0.72)" stroke-width="0.7" fill="none"/>
<g fill="#0a0af5"><circle cx="118.8" cy="218.5" r="1.0"/><circle cx="125.2" cy="218.5" r="1.0"/><circle cx="102.6" cy="214.4" r="1.0"/><circle cx="109.8" cy="216.4" r="1.0"/><circle cx="117.9" cy="217.5" r="1.0"/><circle cx="126.2" cy="217.4" r="1.0"/><circle cx="134.2" cy="216.3" r="1.0"/><circle cx="141.4" cy="214.2" r="1.0"/><circle cx="91.2" cy="207.5" r="1.0"/><circle cx="98.4" cy="211.1" r="1.0"/><circle cx="107.2" cy="213.6" r="1.0"/><circle cx="117" cy="214.9" r="1.0"/><circle cx="127.1" cy="214.9" r="1.0"/><circle cx="136.9" cy="213.5" r="1.0"/><circle cx="145.7" cy="210.9" r="1.0"/><circle cx="152.8" cy="207.3" r="1.0"/><circle cx="86.3" cy="202.3" r="1.0"/><circle cx="94.6" cy="206.5" r="1.0"/><circle cx="104.8" cy="209.4" r="1.0"/><circle cx="116.2" cy="210.9" r="1.0"/><circle cx="128" cy="210.8" r="1.0"/><circle cx="139.3" cy="209.3" r="1.0"/><circle cx="149.5" cy="206.3" r="1.0"/><circle cx="157.8" cy="202.1" r="1.0"/><circle cx="81.9" cy="195.9" r="1.0"/><circle cx="91.3" cy="200.5" r="1.0"/><circle cx="102.7" cy="203.8" r="1.0"/><circle cx="115.5" cy="205.5" r="1.0"/><circle cx="128.7" cy="205.4" r="1.0"/><circle cx="141.4" cy="203.6" r="1.0"/><circle cx="152.8" cy="200.3" r="1.0"/><circle cx="162.1" cy="195.6" r="1.0"/><circle cx="168.7" cy="189.8" r="1.0"/><circle cx="75.3" cy="190.1" r="1.0"/><circle cx="78.3" cy="188.3" r="1.0"/><circle cx="88.5" cy="193.3" r="1.0"/><circle cx="101" cy="196.9" r="1.0"/><circle cx="114.9" cy="198.7" r="1.0"/><circle cx="129.3" cy="198.7" r="1.0"/><circle cx="143.2" cy="196.8" r="1.0"/><circle cx="155.7" cy="193.1" r="1.0"/><circle cx="165.8" cy="188" r="1.0"/><circle cx="173" cy="181.7" r="1.0"/><circle cx="71" cy="182" r="1.0"/><circle cx="75.3" cy="179.7" r="1.0"/><circle cx="86.2" cy="185.1" r="1.0"/><circle cx="99.6" cy="188.9" r="1.0"/><circle cx="114.4" cy="190.9" r="1.0"/><circle cx="129.8" cy="190.8" r="1.0"/><circle cx="144.6" cy="188.8" r="1.0"/><circle cx="157.9" cy="184.8" r="1.0"/><circle cx="168.8" cy="179.4" r="1.0"/><circle cx="176.4" cy="172.6" r="1.0"/><circle cx="67.6" cy="173" r="1.0"/><circle cx="73.2" cy="170.2" r="1.0"/><circle cx="84.6" cy="175.9" r="1.0"/><circle cx="98.5" cy="179.9" r="1.0"/><circle cx="114.1" cy="181.9" r="1.0"/><circle cx="130.1" cy="181.9" r="1.0"/><circle cx="145.7" cy="179.7" r="1.0"/><circle cx="159.5" cy="175.6" r="1.0"/><circle cx="170.9" cy="169.9" r="1.0"/><circle cx="178.9" cy="162.9" r="1.0"/><circle cx="183" cy="155.1" r="1.0"/><circle cx="61" cy="155.5" r="1.0"/><circle cx="65.2" cy="163.3" r="1.0"/><circle cx="71.9" cy="160.1" r="1.0"/><circle cx="83.6" cy="165.9" r="1.0"/><circle cx="97.9" cy="170" r="1.0"/><circle cx="113.9" cy="172.1" r="1.0"/><circle cx="130.4" cy="172" r="1.0"/><circle cx="146.3" cy="169.8" r="1.0"/><circle cx="160.5" cy="165.7" r="1.0"/><circle cx="172.2" cy="159.8" r="1.0"/><circle cx="180.4" cy="152.6" r="1.0"/><circle cx="184.6" cy="144.5" r="1.0"/><circle cx="59.4" cy="145" r="1.0"/><circle cx="63.7" cy="153" r="1.0"/><circle cx="71.5" cy="149.4" r="1.0"/><circle cx="83.3" cy="155.3" r="1.0"/><circle cx="97.7" cy="159.4" r="1.0"/><circle cx="113.8" cy="161.5" r="1.0"/><circle cx="130.4" cy="161.5" r="1.0"/><circle cx="146.5" cy="159.3" r="1.0"/><circle cx="160.9" cy="155" r="1.0"/><circle cx="172.6" cy="149.1" r="1.0"/><circle cx="180.9" cy="141.8" r="1.0"/><circle cx="185.2" cy="133.8" r="1.0"/><circle cx="58.8" cy="134.2" r="1.0"/><circle cx="63.2" cy="142.2" r="1.0"/><circle cx="71.9" cy="138.5" r="1.0"/><circle cx="83.6" cy="144.3" r="1.0"/><circle cx="97.9" cy="148.4" r="1.0"/><circle cx="113.9" cy="150.5" r="1.0"/><circle cx="130.4" cy="150.4" r="1.0"/><circle cx="146.3" cy="148.2" r="1.0"/><circle cx="160.5" cy="144" r="1.0"/><circle cx="172.2" cy="138.1" r="1.0"/><circle cx="180.4" cy="130.9" r="1.0"/><circle cx="184.6" cy="122.9" r="1.0"/><circle cx="59.4" cy="123.3" r="1.0"/><circle cx="63.7" cy="131.3" r="1.0"/><circle cx="73.2" cy="127.3" r="1.0"/><circle cx="84.6" cy="133" r="1.0"/><circle cx="98.5" cy="137" r="1.0"/><circle cx="114.1" cy="139" r="1.0"/><circle cx="130.1" cy="138.9" r="1.0"/><circle cx="145.7" cy="136.8" r="1.0"/><circle cx="159.5" cy="132.7" r="1.0"/><circle cx="170.9" cy="127" r="1.0"/><circle cx="178.9" cy="120" r="1.0"/><circle cx="183" cy="112.2" r="1.0"/><circle cx="61" cy="112.6" r="1.0"/><circle cx="65.2" cy="120.4" r="1.0"/><circle cx="75.3" cy="116.2" r="1.0"/><circle cx="86.2" cy="121.6" r="1.0"/><circle cx="99.6" cy="125.5" r="1.0"/><circle cx="114.4" cy="127.4" r="1.0"/><circle cx="129.8" cy="127.3" r="1.0"/><circle cx="144.6" cy="125.3" r="1.0"/><circle cx="157.9" cy="121.4" r="1.0"/><circle cx="168.8" cy="115.9" r="1.0"/><circle cx="176.4" cy="109.2" r="1.0"/><circle cx="180.4" cy="101.7" r="1.0"/><circle cx="180.3" cy="94" r="1.0"/><circle cx="63.6" cy="94.4" r="1.0"/><circle cx="63.6" cy="102.1" r="1.0"/><circle cx="67.6" cy="109.6" r="1.0"/><circle cx="78.3" cy="105.4" r="1.0"/><circle cx="88.5" cy="110.4" r="1.0"/><circle cx="101" cy="114" r="1.0"/><circle cx="114.9" cy="115.8" r="1.0"/><circle cx="129.3" cy="115.8" r="1.0"/><circle cx="143.2" cy="113.9" r="1.0"/><circle cx="155.7" cy="110.2" r="1.0"/><circle cx="165.8" cy="105.1" r="1.0"/><circle cx="173" cy="98.8" r="1.0"/><circle cx="176.7" cy="91.8" r="1.0"/><circle cx="176.7" cy="84.5" r="1.0"/><circle cx="67.2" cy="84.9" r="1.0"/><circle cx="67.3" cy="92.1" r="1.0"/><circle cx="71" cy="99.1" r="1.0"/><circle cx="81.9" cy="94.9" r="1.0"/><circle cx="91.3" cy="99.6" r="1.0"/><circle cx="102.7" cy="102.8" r="1.0"/><circle cx="115.5" cy="104.5" r="1.0"/><circle cx="128.7" cy="104.5" r="1.0"/><circle cx="141.4" cy="102.7" r="1.0"/><circle cx="152.8" cy="99.4" r="1.0"/><circle cx="162.1" cy="94.6" r="1.0"/><circle cx="168.7" cy="88.9" r="1.0"/><circle cx="172.1" cy="82.5" r="1.0"/><circle cx="172.1" cy="75.8" r="1.0"/><circle cx="71.8" cy="76.2" r="1.0"/><circle cx="71.9" cy="82.8" r="1.0"/><circle cx="75.3" cy="89.2" r="1.0"/><circle cx="86.3" cy="85.1" r="1.0"/><circle cx="94.6" cy="89.2" r="1.0"/><circle cx="104.8" cy="92.1" r="1.0"/><circle cx="116.2" cy="93.6" r="1.0"/><circle cx="128" cy="93.6" r="1.0"/><circle cx="139.3" cy="92" r="1.0"/><circle cx="149.5" cy="89" r="1.0"/><circle cx="157.8" cy="84.8" r="1.0"/><circle cx="163.6" cy="79.7" r="1.0"/><circle cx="166.7" cy="74" r="1.0"/><circle cx="166.6" cy="68.1" r="1.0"/><circle cx="163.6" cy="62.4" r="1.0"/><circle cx="80.3" cy="62.7" r="1.0"/><circle cx="77.3" cy="68.4" r="1.0"/><circle cx="77.3" cy="74.3" r="1.0"/><circle cx="80.4" cy="80" r="1.0"/><circle cx="91.2" cy="76" r="1.0"/><circle cx="98.4" cy="79.6" r="1.0"/><circle cx="107.2" cy="82.1" r="1.0"/><circle cx="117" cy="83.3" r="1.0"/><circle cx="127.1" cy="83.3" r="1.0"/><circle cx="136.9" cy="82" r="1.0"/><circle cx="145.7" cy="79.4" r="1.0"/><circle cx="152.8" cy="75.8" r="1.0"/><circle cx="157.8" cy="71.4" r="1.0"/><circle cx="160.4" cy="66.4" r="1.0"/><circle cx="160.4" cy="61.3" r="1.0"/><circle cx="157.8" cy="56.4" r="1.0"/><circle cx="86.1" cy="56.7" r="1.0"/><circle cx="83.5" cy="61.6" r="1.0"/><circle cx="83.5" cy="66.7" r="1.0"/><circle cx="86.2" cy="71.6" r="1.0"/><circle cx="96.7" cy="67.8" r="1.0"/><circle cx="102.6" cy="70.8" r="1.0"/><circle cx="109.8" cy="72.8" r="1.0"/><circle cx="117.9" cy="73.9" r="1.0"/><circle cx="126.2" cy="73.8" r="1.0"/><circle cx="134.2" cy="72.7" r="1.0"/><circle cx="141.4" cy="70.6" r="1.0"/><circle cx="147.3" cy="67.6" r="1.0"/><circle cx="151.4" cy="64" r="1.0"/><circle cx="153.6" cy="60" r="1.0"/><circle cx="153.6" cy="55.8" r="1.0"/><circle cx="151.4" cy="51.8" r="1.0"/><circle cx="147.2" cy="48.2" r="1.0"/><circle cx="96.7" cy="48.3" r="1.0"/><circle cx="92.5" cy="52" r="1.0"/><circle cx="90.4" cy="56" r="1.0"/><circle cx="90.4" cy="60.2" r="1.0"/><circle cx="92.6" cy="64.2" r="1.0"/><circle cx="102.7" cy="60.7" r="1.0"/><circle cx="107.2" cy="63" r="1.0"/><circle cx="112.7" cy="64.5" r="1.0"/><circle cx="118.8" cy="65.4" r="1.0"/><circle cx="125.2" cy="65.3" r="1.0"/><circle cx="131.4" cy="64.5" r="1.0"/><circle cx="136.9" cy="62.9" r="1.0"/><circle cx="141.4" cy="60.6" r="1.0"/><circle cx="144.5" cy="57.8" r="1.0"/><circle cx="146.2" cy="54.7" r="1.0"/><circle cx="146.1" cy="51.5" r="1.0"/><circle cx="144.5" cy="48.4" r="1.0"/><circle cx="141.3" cy="45.7" r="1.0"/><circle cx="136.8" cy="43.4" r="1.0"/><circle cx="131.3" cy="41.9" r="1.0"/><circle cx="112.6" cy="41.9" r="1.0"/><circle cx="107.1" cy="43.5" r="1.0"/><circle cx="102.6" cy="45.8" r="1.0"/><circle cx="99.4" cy="48.6" r="1.0"/><circle cx="97.8" cy="51.7" r="1.0"/><circle cx="97.8" cy="54.9" r="1.0"/><circle cx="99.5" cy="58" r="1.0"/><circle cx="108.9" cy="54.8" r="1.0"/><circle cx="112" cy="56.3" r="1.0"/><circle cx="115.7" cy="57.4" r="1.0"/><circle cx="119.9" cy="57.9" r="1.0"/><circle cx="124.2" cy="57.9" r="1.0"/><circle cx="128.3" cy="57.3" r="1.0"/><circle cx="132" cy="56.3" r="1.0"/><circle cx="135.1" cy="54.7" r="1.0"/><circle cx="137.2" cy="52.8" r="1.0"/><circle cx="138.3" cy="50.7" r="1.0"/><circle cx="138.3" cy="48.6" r="1.0"/><circle cx="137.2" cy="46.5" r="1.0"/><circle cx="135" cy="44.6" r="1.0"/><circle cx="132" cy="43.1" r="1.0"/><circle cx="128.3" cy="42" r="1.0"/><circle cx="124.1" cy="41.5" r="1.0"/><circle cx="119.8" cy="41.5" r="1.0"/><circle cx="115.6" cy="42.1" r="1.0"/><circle cx="111.9" cy="43.2" r="1.0"/><circle cx="108.9" cy="44.7" r="1.0"/><circle cx="106.7" cy="46.6" r="1.0"/><circle cx="105.6" cy="48.7" r="1.0"/><circle cx="105.6" cy="50.9" r="1.0"/><circle cx="106.8" cy="52.9" r="1.0"/><circle cx="115.4" cy="50.2" r="1.0"/><circle cx="116.9" cy="50.9" r="1.0"/><circle cx="118.8" cy="51.5" r="1.0"/><circle cx="120.9" cy="51.7" r="1.0"/><circle cx="123.1" cy="51.7" r="1.0"/><circle cx="125.2" cy="51.4" r="1.0"/><circle cx="127.1" cy="50.9" r="1.0"/><circle cx="128.6" cy="50.1" r="1.0"/><circle cx="129.7" cy="49.2" r="1.0"/><circle cx="130.2" cy="48.1" r="1.0"/><circle cx="130.2" cy="47" r="1.0"/><circle cx="129.7" cy="46" r="1.0"/><circle cx="128.6" cy="45" r="1.0"/><circle cx="127" cy="44.3" r="1.0"/><circle cx="125.1" cy="43.7" r="1.0"/><circle cx="123" cy="43.5" r="1.0"/><circle cx="120.9" cy="43.5" r="1.0"/><circle cx="118.8" cy="43.8" r="1.0"/><circle cx="116.9" cy="44.3" r="1.0"/><circle cx="115.4" cy="45.1" r="1.0"/><circle cx="114.3" cy="46" r="1.0"/><circle cx="113.7" cy="47.1" r="1.0"/><circle cx="113.7" cy="48.2" r="1.0"/><circle cx="114.3" cy="49.2" r="1.0"/><circle cx="122" cy="46.9" r="1.0"/></g>
<path d="M326.9 188.1L463.9 135.3M463.9 135.3L569.6 204.1M326.9 138.4L463.9 85.6M463.9 85.6L569.6 154.3M326.9 88.6L463.9 35.8M463.9 35.8L569.6 104.6M326.9 188.1L326.9 88.6M432.6 256.9L326.9 188.1M395.4 161.7L395.4 62.2M501.1 230.5L395.4 161.7M463.9 135.3L463.9 35.8M569.6 204.1L463.9 135.3M569.6 204.1L569.6 104.6M432.6 256.9L569.6 204.1M516.8 169.7L516.8 70.2M379.8 222.5L516.8 169.7M463.9 135.3L463.9 35.8M326.9 188.1L463.9 135.3" stroke="#e6e6e6" stroke-width="0.75" fill="none"/>
<path d="M326.91 88.61L326.91 188.11" stroke="#bdbdbd" stroke-width="1.2" fill="none"/>
<path d="M326.91 188.11L432.60 256.90L569.61 204.10" stroke="#262626" stroke-width="0.9" fill="none" stroke-opacity="0.8"/>
<path d="M326.91 188.11L323.89 186.15M326.91 138.36L323.89 136.40M326.91 88.61L323.89 86.65M432.60 256.90L429.24 258.19M379.75 222.50L376.40 223.80M326.91 188.11L323.55 189.40M432.60 256.90L435.62 258.86M501.11 230.50L504.12 232.46M569.61 204.10L572.63 206.06" stroke="#262626" stroke-width="0.7" fill="none" stroke-opacity="0.7"/>
<g opacity="0.42" stroke-width="0.6" stroke-linejoin="round"><g transform="matrix(68.5050 -26.4000 -52.8450 -34.3950 448.260 146.355)"><circle cx="0.7005" cy="0.9080" r="0.0327" fill="#7ecc5b"/><circle cx="0.7008" cy="0.9085" r="0.0005" fill="#7ecc5b"/><circle cx="0.6993" cy="0.9066" r="0.0654" fill="#7ecc5b"/><circle cx="0.7005" cy="0.9080" r="0.0327" fill="#7ecc5b"/><circle cx="0.6975" cy="0.9041" r="0.0980" fill="#7ecc5b"/><circle cx="0.6993" cy="0.9066" r="0.0654" fill="#7ecc5b"/><circle cx="0.6948" cy="0.9007" r="0.1305" fill="#7ecc5b"/><circle cx="0.6975" cy="0.9041" r="0.0980" fill="#7ecc5b"/><circle cx="0.6915" cy="0.8964" r="0.1629" fill="#76cc61"/><circle cx="0.6948" cy="0.9007" r="0.1305" fill="#76cc61"/><circle cx="0.6874" cy="0.8911" r="0.1951" fill="#76cc61"/><circle cx="0.6915" cy="0.8964" r="0.1629" fill="#76cc61"/><circle cx="0.6825" cy="0.8848" r="0.2271" fill="#76cc61"/><circle cx="0.6874" cy="0.8911" r="0.1951" fill="#76cc61"/><circle cx="0.6769" cy="0.8776" r="0.2588" fill="#76cc61"/><circle cx="0.6825" cy="0.8848" r="0.2271" fill="#76cc61"/><circle cx="0.6706" cy="0.8694" r="0.2903" fill="#69cd6a"/><circle cx="0.6769" cy="0.8776" r="0.2588" fill="#69cd6a"/><circle cx="0.6636" cy="0.8603" r="0.3214" fill="#69cd6a"/><circle cx="0.6706" cy="0.8694" r="0.2903" fill="#69cd6a"/><circle cx="0.6559" cy="0.8503" r="0.3523" fill="#69cd6a"/><circle cx="0.6636" cy="0.8603" r="0.3214" fill="#69cd6a"/><circle cx="0.6475" cy="0.8394" r="0.3827" fill="#69cd6a"/><circle cx="0.6559" cy="0.8503" r="0.3523" fill="#69cd6a"/><circle cx="0.6384" cy="0.8275" r="0.4127" fill="#59cc78"/><circle cx="0.6475" cy="0.8394" r="0.3827" fill="#59cc78"/><circle cx="0.6286" cy="0.8148" r="0.4423" fill="#59cc78"/><circle cx="0.6384" cy="0.8275" r="0.4127" fill="#59cc78"/><circle cx="0.6181" cy="0.8012" r="0.4714" fill="#59cc78"/><circle cx="0.6286" cy="0.8148" r="0.4423" fill="#59cc78"/><circle cx="0.6069" cy="0.7868" r="0.5000" fill="#59cc78"/><circle cx="0.6181" cy="0.8012" r="0.4714" fill="#59cc78"/><circle cx="0.5951" cy="0.7715" r="0.5281" fill="#46cb88"/><circle cx="0.6069" cy="0.7868" r="0.5000" fill="#46cb88"/><circle cx="0.5827" cy="0.7554" r="0.5556" fill="#46cb88"/><circle cx="0.5951" cy="0.7715" r="0.5281" fill="#46cb88"/><circle cx="0.5697" cy="0.7385" r="0.5825" fill="#46cb88"/><circle cx="0.5827" cy="0.7554" r="0.5556" fill="#46cb88"/><circle cx="0.5560" cy="0.7208" r="0.6088" fill="#46cb88"/><circle cx="0.5697" cy="0.7385" r="0.5825" fill="#46cb88"/><circle cx="0.5417" cy="0.7023" r="0.6344" fill="#36c898"/><circle cx="0.5560" cy="0.7208" r="0.6088" fill="#36c898"/><circle cx="0.5269" cy="0.6831" r="0.6593" fill="#36c898"/><circle cx="0.5417" cy="0.7023" r="0.6344" fill="#36c898"/><circle cx="0.5115" cy="0.6631" r="0.6836" fill="#36c898"/><circle cx="0.5269" cy="0.6831" r="0.6593" fill="#36c898"/><circle cx="0.4956" cy="0.6424" r="0.7071" fill="#36c898"/><circle cx="0.5115" cy="0.6631" r="0.6836" fill="#36c898"/><circle cx="0.4791" cy="0.6210" r="0.7299" fill="#2ac3a9"/><circle cx="0.4956" cy="0.6424" r="0.7071" fill="#2ac3a9"/><circle cx="0.4621" cy="0.5990" r="0.7518" fill="#2ac3a9"/><circle cx="0.4791" cy="0.6210" r="0.7299" fill="#2ac3a9"/><circle cx="0.4446" cy="0.5764" r="0.7730" fill="#2ac3a9"/><circle cx="0.4621" cy="0.5990" r="0.7518" fill="#2ac3a9"/><circle cx="0.4266" cy="0.5531" r="0.7934" fill="#2ac3a9"/><circle cx="0.4446" cy="0.5764" r="0.7730" fill="#2ac3a9"/><circle cx="0.4082" cy="0.5292" r="0.8128" fill="#12beb9"/><circle cx="0.4266" cy="0.5531" r="0.7934" fill="#12beb9"/><circle cx="0.3894" cy="0.5047" r="0.8315" fill="#12beb9"/><circle cx="0.4082" cy="0.5292" r="0.8128" fill="#12beb9"/><circle cx="0.3701" cy="0.4798" r="0.8492" fill="#12beb9"/><circle cx="0.3894" cy="0.5047" r="0.8315" fill="#12beb9"/><circle cx="0.3504" cy="0.4543" r="0.8660" fill="#12beb9"/><circle cx="0.3701" cy="0.4798" r="0.8492" fill="#12beb9"/><circle cx="0.3304" cy="0.4283" r="0.8819" fill="#01b8ca"/><circle cx="0.3504" cy="0.4543" r="0.8660" fill="#01b8ca"/><circle cx="0.3100" cy="0.4018" r="0.8969" fill="#01b8ca"/><circle cx="0.3304" cy="0.4283" r="0.8819" fill="#01b8ca"/><circle cx="0.2892" cy="0.3749" r="0.9109" fill="#01b8ca"/><circle cx="0.3100" cy="0.4018" r="0.8969" fill="#01b8ca"/><circle cx="0.2682" cy="0.3477" r="0.9239" fill="#01b8ca"/><circle cx="0.2892" cy="0.3749" r="0.9109" fill="#01b8ca"/><circle cx="0.2469" cy="0.3200" r="0.9359" fill="#15afd9"/><circle cx="0.2682" cy="0.3477" r="0.9239" fill="#15afd9"/><circle cx="0.2253" cy="0.2920" r="0.9469" fill="#15afd9"/><circle cx="0.2469" cy="0.3200" r="0.9359" fill="#15afd9"/><circle cx="0.2034" cy="0.2637" r="0.9569" fill="#15afd9"/><circle cx="0.2253" cy="0.2920" r="0.9469" fill="#15afd9"/><circle cx="0.1814" cy="0.2351" r="0.9659" fill="#15afd9"/><circle cx="0.2034" cy="0.2637" r="0.9569" fill="#15afd9"/><circle cx="0.1591" cy="0.2063" r="0.9739" fill="#21a3e3"/><circle cx="0.1814" cy="0.2351" r="0.9659" fill="#21a3e3"/><circle cx="0.1367" cy="0.1772" r="0.9808" fill="#21a3e3"/><circle cx="0.1591" cy="0.2063" r="0.9739" fill="#21a3e3"/><circle cx="0.1142" cy="0.1480" r="0.9866" fill="#21a3e3"/><circle cx="0.1367" cy="0.1772" r="0.9808" fill="#21a3e3"/><circle cx="0.0915" cy="0.1186" r="0.9914" fill="#21a3e3"/><circle cx="0.1142" cy="0.1480" r="0.9866" fill="#21a3e3"/><circle cx="0.0687" cy="0.0890" r="0.9952" fill="#2797eb"/><circle cx="0.0915" cy="0.1186" r="0.9914" fill="#2797eb"/><circle cx="0.0458" cy="0.0594" r="0.9979" fill="#2797eb"/><circle cx="0.0687" cy="0.0890" r="0.9952" fill="#2797eb"/><circle cx="0.0229" cy="0.0297" r="0.9995" fill="#2797eb"/><circle cx="0.0458" cy="0.0594" r="0.9979" fill="#2797eb"/><circle cx="0.0000" cy="0.0000" r="1.0000" fill="#2797eb"/><circle cx="0.0229" cy="0.0297" r="0.9995" fill="#2797eb"/><circle cx="-0.0229" cy="-0.0297" r="0.9995" fill="#2d88f6"/><circle cx="0.0000" cy="0.0000" r="1.0000" fill="#2d88f6"/><circle cx="-0.0458" cy="-0.0594" r="0.9979" fill="#2d88f6"/><circle cx="-0.0229" cy="-0.0297" r="0.9995" fill="#2d88f6"/><circle cx="-0.0687" cy="-0.0890" r="0.9952" fill="#2d88f6"/><circle cx="-0.0458" cy="-0.0594" r="0.9979" fill="#2d88f6"/><circle cx="-0.0915" cy="-0.1186" r="0.9914" fill="#2d88f6"/><circle cx="-0.0687" cy="-0.0890" r="0.9952" fill="#2d88f6"/><circle cx="-0.1142" cy="-0.1480" r="0.9866" fill="#3579fd"/><circle cx="-0.0915" cy="-0.1186" r="0.9914" fill="#3579fd"/><circle cx="-0.1367" cy="-0.1772" r="0.9808" fill="#3579fd"/><circle cx="-0.1142" cy="-0.1480" r="0.9866" fill="#3579fd"/><circle cx="-0.1591" cy="-0.2063" r="0.9739" fill="#3579fd"/><circle cx="-0.1367" cy="-0.1772" r="0.9808" fill="#3579fd"/><circle cx="-0.1814" cy="-0.2351" r="0.9659" fill="#3579fd"/><circle cx="-0.1591" cy="-0.2063" r="0.9739" fill="#3579fd"/><circle cx="-0.2034" cy="-0.2637" r="0.9569" fill="#4269fe"/><circle cx="-0.1814" cy="-0.2351" r="0.9659" fill="#4269fe"/><circle cx="-0.2253" cy="-0.2920" r="0.9469" fill="#4269fe"/><circle cx="-0.2034" cy="-0.2637" r="0.9569" fill="#4269fe"/><circle cx="-0.2469" cy="-0.3200" r="0.9359" fill="#4269fe"/><circle cx="-0.2253" cy="-0.2920" r="0.9469" fill="#4269fe"/><circle cx="-0.2682" cy="-0.3477" r="0.9239" fill="#4269fe"/><circle cx="-0.2469" cy="-0.3200" r="0.9359" fill="#4269fe"/><circle cx="-0.2892" cy="-0.3749" r="0.9109" fill="#475bf9"/><circle cx="-0.2682" cy="-0.3477" r="0.9239" fill="#475bf9"/><circle cx="-0.3100" cy="-0.4018" r="0.8969" fill="#475bf9"/><circle cx="-0.2892" cy="-0.3749" r="0.9109" fill="#475bf9"/><circle cx="-0.3304" cy="-0.4283" r="0.8819" fill="#475bf9"/><circle cx="-0.3100" cy="-0.4018" r="0.8969" fill="#475bf9"/><circle cx="-0.3504" cy="-0.4543" r="0.8660" fill="#475bf9"/><circle cx="-0.3304" cy="-0.4283" r="0.8819" fill="#475bf9"/><circle cx="-0.3701" cy="-0.4798" r="0.8492" fill="#484ef1"/><circle cx="-0.3504" cy="-0.4543" r="0.8660" fill="#484ef1"/><circle cx="-0.3894" cy="-0.5047" r="0.8315" fill="#484ef1"/><circle cx="-0.3701" cy="-0.4798" r="0.8492" fill="#484ef1"/><circle cx="-0.4082" cy="-0.5292" r="0.8128" fill="#484ef1"/><circle cx="-0.3894" cy="-0.5047" r="0.8315" fill="#484ef1"/><circle cx="-0.4266" cy="-0.5531" r="0.7934" fill="#484ef1"/><circle cx="-0.4082" cy="-0.5292" r="0.8128" fill="#484ef1"/><circle cx="-0.4446" cy="-0.5764" r="0.7730" fill="#4742e6"/><circle cx="-0.4266" cy="-0.5531" r="0.7934" fill="#4742e6"/><circle cx="-0.4621" cy="-0.5990" r="0.7518" fill="#4742e6"/><circle cx="-0.4446" cy="-0.5764" r="0.7730" fill="#4742e6"/><circle cx="-0.4791" cy="-0.6210" r="0.7299" fill="#4742e6"/><circle cx="-0.4621" cy="-0.5990" r="0.7518" fill="#4742e6"/><circle cx="-0.4956" cy="-0.6424" r="0.7071" fill="#4742e6"/><circle cx="-0.4791" cy="-0.6210" r="0.7299" fill="#4742e6"/><circle cx="-0.5115" cy="-0.6631" r="0.6836" fill="#4538d8"/><circle cx="-0.4956" cy="-0.6424" r="0.7071" fill="#4538d8"/><circle cx="-0.5269" cy="-0.6831" r="0.6593" fill="#4538d8"/><circle cx="-0.5115" cy="-0.6631" r="0.6836" fill="#4538d8"/><circle cx="-0.5417" cy="-0.7023" r="0.6344" fill="#4538d8"/><circle cx="-0.5269" cy="-0.6831" r="0.6593" fill="#4538d8"/><circle cx="-0.5560" cy="-0.7208" r="0.6088" fill="#4538d8"/><circle cx="-0.5417" cy="-0.7023" r="0.6344" fill="#4538d8"/><circle cx="-0.5697" cy="-0.7385" r="0.5825" fill="#4332c9"/><circle cx="-0.5560" cy="-0.7208" r="0.6088" fill="#4332c9"/><circle cx="-0.5827" cy="-0.7554" r="0.5556" fill="#4332c9"/><circle cx="-0.5697" cy="-0.7385" r="0.5825" fill="#4332c9"/><circle cx="-0.5951" cy="-0.7715" r="0.5281" fill="#4332c9"/><circle cx="-0.5827" cy="-0.7554" r="0.5556" fill="#4332c9"/><circle cx="-0.6069" cy="-0.7868" r="0.5000" fill="#4332c9"/><circle cx="-0.5951" cy="-0.7715" r="0.5281" fill="#4332c9"/><circle cx="-0.6181" cy="-0.8012" r="0.4714" fill="#412dbb"/><circle cx="-0.6069" cy="-0.7868" r="0.5000" fill="#412dbb"/><circle cx="-0.6286" cy="-0.8148" r="0.4423" fill="#412dbb"/><circle cx="-0.6181" cy="-0.8012" r="0.4714" fill="#412dbb"/><circle cx="-0.6384" cy="-0.8275" r="0.4127" fill="#412dbb"/><circle cx="-0.6286" cy="-0.8148" r="0.4423" fill="#412dbb"/><circle cx="-0.6475" cy="-0.8394" r="0.3827" fill="#412dbb"/><circle cx="-0.6384" cy="-0.8275" r="0.4127" fill="#412dbb"/><circle cx="-0.6559" cy="-0.8503" r="0.3523" fill="#3f29b1"/><circle cx="-0.6475" cy="-0.8394" r="0.3827" fill="#3f29b1"/><circle cx="-0.6636" cy="-0.8603" r="0.3214" fill="#3f29b1"/><circle cx="-0.6559" cy="-0.8503" r="0.3523" fill="#3f29b1"/><circle cx="-0.6706" cy="-0.8694" r="0.2903" fill="#3f29b1"/><circle cx="-0.6636" cy="-0.8603" r="0.3214" fill="#3f29b1"/><circle cx="-0.6769" cy="-0.8776" r="0.2588" fill="#3f29b1"/><circle cx="-0.6706" cy="-0.8694" r="0.2903" fill="#3f29b1"/><circle cx="-0.6825" cy="-0.8848" r="0.2271" fill="#3e27ab"/><circle cx="-0.6769" cy="-0.8776" r="0.2588" fill="#3e27ab"/><circle cx="-0.6874" cy="-0.8911" r="0.1951" fill="#3e27ab"/><circle cx="-0.6825" cy="-0.8848" r="0.2271" fill="#3e27ab"/><circle cx="-0.6915" cy="-0.8964" r="0.1629" fill="#3e27ab"/><circle cx="-0.6874" cy="-0.8911" r="0.1951" fill="#3e27ab"/><circle cx="-0.6948" cy="-0.9007" r="0.1305" fill="#3e27ab"/><circle cx="-0.6915" cy="-0.8964" r="0.1629" fill="#3e27ab"/><circle cx="-0.6975" cy="-0.9041" r="0.0980" fill="#3e26a8"/><circle cx="-0.6948" cy="-0.9007" r="0.1305" fill="#3e26a8"/><circle cx="-0.6993" cy="-0.9066" r="0.0654" fill="#3e26a8"/><circle cx="-0.6975" cy="-0.9041" r="0.0980" fill="#3e26a8"/><circle cx="-0.7005" cy="-0.9080" r="0.0327" fill="#3e26a8"/><circle cx="-0.6993" cy="-0.9066" r="0.0654" fill="#3e26a8"/><circle cx="-0.7008" cy="-0.9085" r="0.0005" fill="#3e26a8"/><circle cx="-0.7005" cy="-0.9080" r="0.0327" fill="#3e26a8"/></g></g>
<g fill="#0a0af5"><circle cx="448.3" cy="196.1" r="1.0"/><circle cx="439.3" cy="199.1" r="1.0"/><circle cx="441.4" cy="200.2" r="1.0"/><circle cx="444" cy="200.9" r="1.0"/><circle cx="446.8" cy="201.3" r="1.0"/><circle cx="449.8" cy="201.3" r="1.0"/><circle cx="452.6" cy="200.9" r="1.0"/><circle cx="455.2" cy="200.2" r="1.0"/><circle cx="457.2" cy="199.1" r="1.0"/><circle cx="458.7" cy="197.8" r="1.0"/><circle cx="459.5" cy="196.4" r="1.0"/><circle cx="459.5" cy="194.9" r="1.0"/><circle cx="458.7" cy="193.5" r="1.0"/><circle cx="457.2" cy="192.2" r="1.0"/><circle cx="455.1" cy="191.2" r="1.0"/><circle cx="452.6" cy="190.5" r="1.0"/><circle cx="449.7" cy="190.1" r="1.0"/><circle cx="446.8" cy="190.1" r="1.0"/><circle cx="443.9" cy="190.5" r="1.0"/><circle cx="441.4" cy="191.2" r="1.0"/><circle cx="439.3" cy="192.2" r="1.0"/><circle cx="437.8" cy="193.5" r="1.0"/><circle cx="437.1" cy="194.9" r="1.0"/><circle cx="437.1" cy="196.4" r="1.0"/><circle cx="437.8" cy="197.8" r="1.0"/><circle cx="430.5" cy="201.2" r="1.0"/><circle cx="434.7" cy="203.3" r="1.0"/><circle cx="439.7" cy="204.8" r="1.0"/><circle cx="445.4" cy="205.5" r="1.0"/><circle cx="451.2" cy="205.5" r="1.0"/><circle cx="456.9" cy="204.8" r="1.0"/><circle cx="461.9" cy="203.3" r="1.0"/><circle cx="466.1" cy="201.2" r="1.0"/><circle cx="469" cy="198.7" r="1.0"/><circle cx="470.5" cy="195.9" r="1.0"/><circle cx="470.5" cy="192.9" r="1.0"/><circle cx="468.9" cy="190.1" r="1.0"/><circle cx="466" cy="187.6" r="1.0"/><circle cx="461.8" cy="185.5" r="1.0"/><circle cx="456.8" cy="184" r="1.0"/><circle cx="451.1" cy="183.3" r="1.0"/><circle cx="445.3" cy="183.3" r="1.0"/><circle cx="439.6" cy="184" r="1.0"/><circle cx="434.6" cy="185.5" r="1.0"/><circle cx="430.5" cy="187.6" r="1.0"/><circle cx="427.5" cy="190.1" r="1.0"/><circle cx="426.1" cy="192.9" r="1.0"/><circle cx="426.1" cy="195.9" r="1.0"/><circle cx="427.6" cy="198.7" r="1.0"/><circle cx="422" cy="202.4" r="1.0"/><circle cx="428.2" cy="205.5" r="1.0"/><circle cx="435.7" cy="207.6" r="1.0"/><circle cx="444" cy="208.8" r="1.0"/><circle cx="452.7" cy="208.8" r="1.0"/><circle cx="461" cy="207.6" r="1.0"/><circle cx="468.5" cy="205.5" r="1.0"/><circle cx="474.6" cy="202.4" r="1.0"/><circle cx="478.9" cy="198.7" r="1.0"/><circle cx="481.1" cy="194.5" r="1.0"/><circle cx="481.1" cy="190.1" r="1.0"/><circle cx="478.8" cy="186" r="1.0"/><circle cx="474.5" cy="182.2" r="1.0"/><circle cx="468.3" cy="179.2" r="1.0"/><circle cx="460.9" cy="177" r="1.0"/><circle cx="452.5" cy="175.9" r="1.0"/><circle cx="443.9" cy="175.9" r="1.0"/><circle cx="435.5" cy="177" r="1.0"/><circle cx="428" cy="179.2" r="1.0"/><circle cx="421.9" cy="182.2" r="1.0"/><circle cx="417.6" cy="186" r="1.0"/><circle cx="415.4" cy="190.2" r="1.0"/><circle cx="415.4" cy="194.5" r="1.0"/><circle cx="417.7" cy="198.7" r="1.0"/><circle cx="414" cy="202.6" r="1.0"/><circle cx="422" cy="206.6" r="1.0"/><circle cx="431.8" cy="209.5" r="1.0"/><circle cx="442.7" cy="210.9" r="1.0"/><circle cx="454" cy="210.9" r="1.0"/><circle cx="464.9" cy="209.5" r="1.0"/><circle cx="474.7" cy="206.6" r="1.0"/><circle cx="482.6" cy="202.6" r="1.0"/><circle cx="488.3" cy="197.7" r="1.0"/><circle cx="491.2" cy="192.3" r="1.0"/><circle cx="491.1" cy="186.6" r="1.0"/><circle cx="488.2" cy="181.1" r="1.0"/><circle cx="482.5" cy="176.2" r="1.0"/><circle cx="474.5" cy="172.2" r="1.0"/><circle cx="464.7" cy="169.4" r="1.0"/><circle cx="453.8" cy="167.9" r="1.0"/><circle cx="442.5" cy="167.9" r="1.0"/><circle cx="431.6" cy="169.4" r="1.0"/><circle cx="421.8" cy="172.2" r="1.0"/><circle cx="413.9" cy="176.2" r="1.0"/><circle cx="408.3" cy="181.1" r="1.0"/><circle cx="405.4" cy="186.6" r="1.0"/><circle cx="405.4" cy="192.3" r="1.0"/><circle cx="408.3" cy="197.7" r="1.0"/><circle cx="406.6" cy="201.9" r="1.0"/><circle cx="416.3" cy="206.8" r="1.0"/><circle cx="428.2" cy="210.2" r="1.0"/><circle cx="441.5" cy="212" r="1.0"/><circle cx="455.3" cy="212" r="1.0"/><circle cx="468.5" cy="210.2" r="1.0"/><circle cx="480.4" cy="206.8" r="1.0"/><circle cx="490.1" cy="201.9" r="1.0"/><circle cx="497" cy="195.9" r="1.0"/><circle cx="500.5" cy="189.3" r="1.0"/><circle cx="500.5" cy="182.4" r="1.0"/><circle cx="496.9" cy="175.7" r="1.0"/><circle cx="490" cy="169.8" r="1.0"/><circle cx="480.2" cy="164.9" r="1.0"/><circle cx="468.3" cy="161.4" r="1.0"/><circle cx="455" cy="159.7" r="1.0"/><circle cx="441.3" cy="159.7" r="1.0"/><circle cx="428" cy="161.4" r="1.0"/><circle cx="416.1" cy="164.9" r="1.0"/><circle cx="406.4" cy="169.8" r="1.0"/><circle cx="399.5" cy="175.7" r="1.0"/><circle cx="396" cy="182.4" r="1.0"/><circle cx="396.1" cy="189.3" r="1.0"/><circle cx="399.7" cy="195.9" r="1.0"/><circle cx="399.8" cy="200.2" r="1.0"/><circle cx="411.1" cy="205.9" r="1.0"/><circle cx="485.6" cy="205.9" r="1.0"/><circle cx="496.9" cy="200.2" r="1.0"/><circle cx="504.8" cy="193.3" r="1.0"/><circle cx="508.9" cy="185.5" r="1.0"/><circle cx="508.9" cy="177.5" r="1.0"/><circle cx="504.7" cy="169.8" r="1.0"/><circle cx="496.7" cy="162.9" r="1.0"/><circle cx="485.4" cy="157.2" r="1.0"/><circle cx="471.5" cy="153.2" r="1.0"/><circle cx="456.1" cy="151.1" r="1.0"/><circle cx="440.1" cy="151.1" r="1.0"/><circle cx="424.7" cy="153.2" r="1.0"/><circle cx="410.9" cy="157.2" r="1.0"/><circle cx="399.6" cy="162.9" r="1.0"/><circle cx="391.7" cy="169.8" r="1.0"/><circle cx="387.6" cy="177.5" r="1.0"/><circle cx="387.6" cy="185.5" r="1.0"/><circle cx="391.8" cy="193.3" r="1.0"/><circle cx="393.9" cy="197.6" r="1.0"/><circle cx="502.8" cy="197.6" r="1.0"/><circle cx="511.7" cy="189.8" r="1.0"/><circle cx="516.3" cy="181.1" r="1.0"/><circle cx="516.3" cy="172.1" r="1.0"/><circle cx="511.6" cy="163.5" r="1.0"/><circle cx="502.6" cy="155.7" r="1.0"/><circle cx="489.9" cy="149.3" r="1.0"/><circle cx="474.4" cy="144.9" r="1.0"/><circle cx="457" cy="142.5" r="1.0"/><circle cx="439.1" cy="142.5" r="1.0"/><circle cx="421.8" cy="144.9" r="1.0"/><circle cx="406.3" cy="149.4" r="1.0"/><circle cx="393.7" cy="155.7" r="1.0"/><circle cx="384.8" cy="163.5" r="1.0"/><circle cx="380.2" cy="172.2" r="1.0"/><circle cx="380.2" cy="181.1" r="1.0"/><circle cx="384.9" cy="189.8" r="1.0"/><circle cx="517.6" cy="185.6" r="1.0"/><circle cx="522.6" cy="176.1" r="1.0"/><circle cx="522.5" cy="166.3" r="1.0"/><circle cx="517.4" cy="156.9" r="1.0"/><circle cx="507.6" cy="148.4" r="1.0"/><circle cx="493.7" cy="141.4" r="1.0"/><circle cx="476.8" cy="136.5" r="1.0"/><circle cx="457.8" cy="134" r="1.0"/><circle cx="438.3" cy="134" r="1.0"/><circle cx="419.4" cy="136.5" r="1.0"/><circle cx="402.5" cy="141.4" r="1.0"/><circle cx="388.7" cy="148.4" r="1.0"/><circle cx="379" cy="156.9" r="1.0"/><circle cx="373.9" cy="166.3" r="1.0"/><circle cx="374" cy="176.1" r="1.0"/><circle cx="379.1" cy="185.6" r="1.0"/><circle cx="527.5" cy="170.6" r="1.0"/><circle cx="527.5" cy="160.2" r="1.0"/><circle cx="522" cy="150.1" r="1.0"/><circle cx="511.6" cy="141" r="1.0"/><circle cx="496.8" cy="133.6" r="1.0"/><circle cx="478.7" cy="128.4" r="1.0"/><circle cx="458.5" cy="125.7" r="1.0"/><circle cx="437.6" cy="125.7" r="1.0"/><circle cx="417.5" cy="128.4" r="1.0"/><circle cx="399.4" cy="133.6" r="1.0"/><circle cx="384.7" cy="141" r="1.0"/><circle cx="374.3" cy="150.1" r="1.0"/><circle cx="369" cy="160.2" r="1.0"/><circle cx="369" cy="170.6" r="1.0"/><circle cx="531.1" cy="164.7" r="1.0"/><circle cx="531.1" cy="153.8" r="1.0"/><circle cx="525.4" cy="143.2" r="1.0"/><circle cx="514.4" cy="133.7" r="1.0"/><circle cx="499" cy="126" r="1.0"/><circle cx="480" cy="120.5" r="1.0"/><circle cx="459" cy="117.7" r="1.0"/><circle cx="437.1" cy="117.7" r="1.0"/><circle cx="416.1" cy="120.5" r="1.0"/><circle cx="397.2" cy="126" r="1.0"/><circle cx="381.8" cy="133.7" r="1.0"/><circle cx="371" cy="143.2" r="1.0"/><circle cx="365.4" cy="153.8" r="1.0"/><circle cx="365.4" cy="164.7" r="1.0"/><circle cx="533.3" cy="147.2" r="1.0"/><circle cx="527.4" cy="136.4" r="1.0"/><circle cx="516.2" cy="126.7" r="1.0"/><circle cx="500.3" cy="118.7" r="1.0"/><circle cx="480.9" cy="113.1" r="1.0"/><circle cx="459.2" cy="110.2" r="1.0"/><circle cx="436.8" cy="110.2" r="1.0"/><circle cx="415.2" cy="113.1" r="1.0"/><circle cx="395.9" cy="118.7" r="1.0"/><circle cx="380.1" cy="126.7" r="1.0"/><circle cx="368.9" cy="136.4" r="1.0"/><circle cx="363.2" cy="147.2" r="1.0"/><circle cx="534" cy="140.7" r="1.0"/><circle cx="528.1" cy="129.8" r="1.0"/><circle cx="516.8" cy="120" r="1.0"/><circle cx="500.8" cy="112" r="1.0"/><circle cx="481.2" cy="106.3" r="1.0"/><circle cx="459.3" cy="103.4" r="1.0"/><circle cx="436.7" cy="103.4" r="1.0"/><circle cx="414.9" cy="106.3" r="1.0"/><circle cx="395.4" cy="112" r="1.0"/><circle cx="379.5" cy="120" r="1.0"/><circle cx="368.2" cy="129.8" r="1.0"/><circle cx="362.5" cy="140.7" r="1.0"/><circle cx="533.3" cy="134.2" r="1.0"/><circle cx="527.4" cy="123.4" r="1.0"/><circle cx="516.2" cy="113.7" r="1.0"/><circle cx="500.3" cy="105.8" r="1.0"/><circle cx="480.9" cy="100.1" r="1.0"/><circle cx="459.2" cy="97.2" r="1.0"/><circle cx="436.8" cy="97.2" r="1.0"/><circle cx="415.2" cy="100.1" r="1.0"/><circle cx="395.9" cy="105.8" r="1.0"/><circle cx="380.1" cy="113.7" r="1.0"/><circle cx="368.9" cy="123.4" r="1.0"/><circle cx="363.2" cy="134.3" r="1.0"/><circle cx="525.4" cy="117.4" r="1.0"/><circle cx="514.4" cy="108" r="1.0"/><circle cx="499" cy="100.2" r="1.0"/><circle cx="480" cy="94.8" r="1.0"/><circle cx="459" cy="92" r="1.0"/><circle cx="437.1" cy="92" r="1.0"/><circle cx="416.1" cy="94.8" r="1.0"/><circle cx="397.2" cy="100.3" r="1.0"/><circle cx="381.8" cy="108" r="1.0"/><circle cx="371" cy="117.5" r="1.0"/><circle cx="522" cy="112" r="1.0"/><circle cx="511.6" cy="102.9" r="1.0"/><circle cx="496.8" cy="95.5" r="1.0"/><circle cx="478.7" cy="90.3" r="1.0"/><circle cx="458.5" cy="87.6" r="1.0"/><circle cx="437.6" cy="87.6" r="1.0"/><circle cx="417.5" cy="90.3" r="1.0"/><circle cx="399.4" cy="95.5" r="1.0"/><circle cx="384.7" cy="102.9" r="1.0"/><circle cx="374.3" cy="112" r="1.0"/><circle cx="507.6" cy="98.6" r="1.0"/><circle cx="493.7" cy="91.7" r="1.0"/><circle cx="476.8" cy="86.8" r="1.0"/><circle cx="457.8" cy="84.3" r="1.0"/><circle cx="438.3" cy="84.3" r="1.0"/><circle cx="419.4" cy="86.8" r="1.0"/><circle cx="402.5" cy="91.7" r="1.0"/><circle cx="388.7" cy="98.6" r="1.0"/><circle cx="489.9" cy="88.8" r="1.0"/><circle cx="474.4" cy="84.3" r="1.0"/><circle cx="457" cy="82" r="1.0"/><circle cx="439.1" cy="82" r="1.0"/><circle cx="421.8" cy="84.3" r="1.0"/><circle cx="406.3" cy="88.8" r="1.0"/><circle cx="471.5" cy="82.8" r="1.0"/><circle cx="456.1" cy="80.8" r="1.0"/><circle cx="440.1" cy="80.8" r="1.0"/><circle cx="424.7" cy="82.9" r="1.0"/></g>
<polygon points="516.8,120 509.3,115.7 500.8,112 491.3,108.8 481.2,106.3 470.4,104.5 459.3,103.4 448,103 436.7,103.4 425.7,104.5 414.9,106.3 404.8,108.8 395.4,112 386.9,115.7 379.5,120 373.2,124.7 368.2,129.8 364.6,135.1 362.5,140.7 361.7,146.4 362.5,152 364.7,157.6 368.4,163 373.4,168 379.8,172.8" fill="#f2f71f" fill-opacity="0.62"/><polygon points="516.8,120 516.2,113.7 514.4,108 511.6,102.9 507.6,98.6 502.6,95.1 496.7,92.5 490,90.8 482.5,90.1 474.5,90.3 466,91.5 457.2,93.6 448.3,96.6 439.3,100.5 430.5,105.1 422,110.5 414,116.5 406.6,123 399.8,129.8 393.9,137 388.9,144.3 385,151.7 382.1,159 380.3,166 379.8,172.8 380.3,179 382.1,184.7 385,189.8 388.9,194.1 393.9,197.6 399.8,200.2 406.6,201.9 414,202.6 422,202.4 430.5,201.2 439.3,199.1 448.3,196.1 457.2,192.2 466,187.6 474.5,182.2 482.5,176.2 490,169.8 496.7,162.9 502.6,155.7 507.6,148.4 511.6,141 514.4,133.7 516.2,126.7" fill="#a8c73b" fill-opacity="0.38"/><polygon points="516.7,119.7 523.1,124.7 528.1,129.8 531.8,135.1 534,140.7 534.8,146.3 534.1,152 531.9,157.6 528.3,162.9 523.3,168 517,172.7 509.6,177 501.1,180.7 491.7,183.9 481.6,186.4 470.9,188.2 459.8,189.3 448.5,189.7 437.2,189.3 426.1,188.2 415.4,186.4 405.2,183.9 395.8,180.8 387.2,177 379.6,172.5" fill="#f2f71f" fill-opacity="0.62"/>
<path d="M516.8 120L516.6 116.8M516.6 116.8L516.2 113.7M516.2 113.7L515.4 110.8M515.4 110.8L514.4 108M514.4 108L513.1 105.4M513.1 105.4L511.6 102.9M511.6 102.9L509.7 100.7M509.7 100.7L507.6 98.6M507.6 98.6L505.2 96.8M391.3 195.9L393.9 197.6M393.9 197.6L396.8 199M396.8 199L399.8 200.2M399.8 200.2L403.1 201.2M403.1 201.2L406.6 201.9M406.6 201.9L410.2 202.4M410.2 202.4L414 202.6M414 202.6L418 202.7M418 202.7L422 202.4M422 202.4L426.2 202M426.2 202L430.5 201.2M430.5 201.2L434.9 200.3M434.9 200.3L439.3 199.1M439.3 199.1L443.8 197.7M443.8 197.7L448.3 196.1M448.3 196.1L452.7 194.3M452.7 194.3L457.2 192.2M457.2 192.2L461.6 190M461.6 190L466 187.6M466 187.6L470.3 185M470.3 185L474.5 182.2M474.5 182.2L478.6 179.3M478.6 179.3L482.5 176.2M482.5 176.2L486.3 173.1M486.3 173.1L490 169.8M490 169.8L493.4 166.4M493.4 166.4L496.7 162.9M496.7 162.9L499.8 159.3M499.8 159.3L502.6 155.7M502.6 155.7L505.2 152M505.2 152L507.6 148.4M507.6 148.4L509.7 144.7M509.7 144.7L511.6 141M511.6 141L513.1 137.3M513.1 137.3L514.4 133.7M514.4 133.7L515.4 130.2M515.4 130.2L516.2 126.7M516.2 126.7L516.6 123.3M516.6 123.3L516.8 120M516.8 120L513.2 117.8M513.2 117.8L509.3 115.7M509.3 115.7L505.1 113.8M505.1 113.8L500.8 112M500.8 112L496.1 110.3M496.1 110.3L491.3 108.8M491.3 108.8L486.3 107.5M486.3 107.5L481.2 106.3M481.2 106.3L475.9 105.3M475.9 105.3L470.4 104.5M470.4 104.5L464.9 103.8M464.9 103.8L459.3 103.4M459.3 103.4L453.7 103.1M453.7 103.1L448 103M448 103L442.4 103.1M442.4 103.1L436.7 103.4M436.7 103.4L431.2 103.8M431.2 103.8L425.7 104.5M425.7 104.5L420.2 105.3M420.2 105.3L414.9 106.3M414.9 106.3L409.8 107.5M409.8 107.5L404.8 108.8M404.8 108.8L400 110.3M400 110.3L395.4 112M395.4 112L391 113.8M391 113.8L386.9 115.7M386.9 115.7L383.1 117.8M383.1 117.8L379.5 120M379.5 120L376.2 122.3M376.2 122.3L373.2 124.7M373.2 124.7L370.6 127.2M370.6 127.2L368.2 129.8M368.2 129.8L366.3 132.4M366.3 132.4L364.6 135.1M364.6 135.1L363.4 137.9M363.4 137.9L362.5 140.7M362.5 140.7L361.9 143.5M361.9 143.5L361.7 146.4M534.8 146.3L534.6 143.5M534.6 143.5L534 140.7M534 140.7L533.1 137.9M533.1 137.9L531.8 135.1M531.8 135.1L530.1 132.4M530.1 132.4L528.1 129.8M528.1 129.8L525.8 127.2M525.8 127.2L523.1 124.7M523.1 124.7L520.1 122.3M520.1 122.3L516.8 120" stroke="rgba(50,55,20,0.5)" stroke-width="0.7" fill="none"/>
<g opacity="0.42" stroke-width="0.6" stroke-linejoin="round"><g transform="matrix(68.5050 -26.4000 -52.8450 -34.3950 448.260 146.355)"><circle cx="-0.7008" cy="-0.9085" r="0.0005" fill="#3e26a8"/><circle cx="-0.7005" cy="-0.9080" r="0.0327" fill="#3e26a8"/><circle cx="-0.7005" cy="-0.9080" r="0.0327" fill="#3e26a8"/><circle cx="-0.6993" cy="-0.9066" r="0.0654" fill="#3e26a8"/><circle cx="-0.6993" cy="-0.9066" r="0.0654" fill="#3e26a8"/><circle cx="-0.6975" cy="-0.9041" r="0.0980" fill="#3e26a8"/><circle cx="-0.6975" cy="-0.9041" r="0.0980" fill="#3e26a8"/><circle cx="-0.6948" cy="-0.9007" r="0.1305" fill="#3e26a8"/><circle cx="-0.6948" cy="-0.9007" r="0.1305" fill="#3e27ab"/><circle cx="-0.6915" cy="-0.8964" r="0.1629" fill="#3e27ab"/><circle cx="-0.6915" cy="-0.8964" r="0.1629" fill="#3e27ab"/><circle cx="-0.6874" cy="-0.8911" r="0.1951" fill="#3e27ab"/><circle cx="-0.6874" cy="-0.8911" r="0.1951" fill="#3e27ab"/><circle cx="-0.6825" cy="-0.8848" r="0.2271" fill="#3e27ab"/><circle cx="-0.6825" cy="-0.8848" r="0.2271" fill="#3e27ab"/><circle cx="-0.6769" cy="-0.8776" r="0.2588" fill="#3e27ab"/><circle cx="-0.6769" cy="-0.8776" r="0.2588" fill="#3f29b1"/><circle cx="-0.6706" cy="-0.8694" r="0.2903" fill="#3f29b1"/><circle cx="-0.6706" cy="-0.8694" r="0.2903" fill="#3f29b1"/><circle cx="-0.6636" cy="-0.8603" r="0.3214" fill="#3f29b1"/><circle cx="-0.6636" cy="-0.8603" r="0.3214" fill="#3f29b1"/><circle cx="-0.6559" cy="-0.8503" r="0.3523" fill="#3f29b1"/><circle cx="-0.6559" cy="-0.8503" r="0.3523" fill="#3f29b1"/><circle cx="-0.6475" cy="-0.8394" r="0.3827" fill="#3f29b1"/><circle cx="-0.6475" cy="-0.8394" r="0.3827" fill="#412dbb"/><circle cx="-0.6384" cy="-0.8275" r="0.4127" fill="#412dbb"/><circle cx="-0.6384" cy="-0.8275" r="0.4127" fill="#412dbb"/><circle cx="-0.6286" cy="-0.8148" r="0.4423" fill="#412dbb"/><circle cx="-0.6286" cy="-0.8148" r="0.4423" fill="#412dbb"/><circle cx="-0.6181" cy="-0.8012" r="0.4714" fill="#412dbb"/><circle cx="-0.6181" cy="-0.8012" r="0.4714" fill="#412dbb"/><circle cx="-0.6069" cy="-0.7868" r="0.5000" fill="#412dbb"/><circle cx="-0.6069" cy="-0.7868" r="0.5000" fill="#4332c9"/><circle cx="-0.5951" cy="-0.7715" r="0.5281" fill="#4332c9"/><circle cx="-0.5951" cy="-0.7715" r="0.5281" fill="#4332c9"/><circle cx="-0.5827" cy="-0.7554" r="0.5556" fill="#4332c9"/><circle cx="-0.5827" cy="-0.7554" r="0.5556" fill="#4332c9"/><circle cx="-0.5697" cy="-0.7385" r="0.5825" fill="#4332c9"/><circle cx="-0.5697" cy="-0.7385" r="0.5825" fill="#4332c9"/><circle cx="-0.5560" cy="-0.7208" r="0.6088" fill="#4332c9"/><circle cx="-0.5560" cy="-0.7208" r="0.6088" fill="#4538d8"/><circle cx="-0.5417" cy="-0.7023" r="0.6344" fill="#4538d8"/><circle cx="-0.5417" cy="-0.7023" r="0.6344" fill="#4538d8"/><circle cx="-0.5269" cy="-0.6831" r="0.6593" fill="#4538d8"/><circle cx="-0.5269" cy="-0.6831" r="0.6593" fill="#4538d8"/><circle cx="-0.5115" cy="-0.6631" r="0.6836" fill="#4538d8"/><circle cx="-0.5115" cy="-0.6631" r="0.6836" fill="#4538d8"/><circle cx="-0.4956" cy="-0.6424" r="0.7071" fill="#4538d8"/><circle cx="-0.4956" cy="-0.6424" r="0.7071" fill="#4742e6"/><circle cx="-0.4791" cy="-0.6210" r="0.7299" fill="#4742e6"/><circle cx="-0.4791" cy="-0.6210" r="0.7299" fill="#4742e6"/><circle cx="-0.4621" cy="-0.5990" r="0.7518" fill="#4742e6"/><circle cx="-0.4621" cy="-0.5990" r="0.7518" fill="#4742e6"/><circle cx="-0.4446" cy="-0.5764" r="0.7730" fill="#4742e6"/><circle cx="-0.4446" cy="-0.5764" r="0.7730" fill="#4742e6"/><circle cx="-0.4266" cy="-0.5531" r="0.7934" fill="#4742e6"/><circle cx="-0.4266" cy="-0.5531" r="0.7934" fill="#484ef1"/><circle cx="-0.4082" cy="-0.5292" r="0.8128" fill="#484ef1"/><circle cx="-0.4082" cy="-0.5292" r="0.8128" fill="#484ef1"/><circle cx="-0.3894" cy="-0.5047" r="0.8315" fill="#484ef1"/><circle cx="-0.3894" cy="-0.5047" r="0.8315" fill="#484ef1"/><circle cx="-0.3701" cy="-0.4798" r="0.8492" fill="#484ef1"/><circle cx="-0.3701" cy="-0.4798" r="0.8492" fill="#484ef1"/><circle cx="-0.3504" cy="-0.4543" r="0.8660" fill="#484ef1"/><circle cx="-0.3504" cy="-0.4543" r="0.8660" fill="#475bf9"/><circle cx="-0.3304" cy="-0.4283" r="0.8819" fill="#475bf9"/><circle cx="-0.3304" cy="-0.4283" r="0.8819" fill="#475bf9"/><circle cx="-0.3100" cy="-0.4018" r="0.8969" fill="#475bf9"/><circle cx="-0.3100" cy="-0.4018" r="0.8969" fill="#475bf9"/><circle cx="-0.2892" cy="-0.3749" r="0.9109" fill="#475bf9"/><circle cx="-0.2892" cy="-0.3749" r="0.9109" fill="#475bf9"/><circle cx="-0.2682" cy="-0.3477" r="0.9239" fill="#475bf9"/><circle cx="-0.2682" cy="-0.3477" r="0.9239" fill="#4269fe"/><circle cx="-0.2469" cy="-0.3200" r="0.9359" fill="#4269fe"/><circle cx="-0.2469" cy="-0.3200" r="0.9359" fill="#4269fe"/><circle cx="-0.2253" cy="-0.2920" r="0.9469" fill="#4269fe"/><circle cx="-0.2253" cy="-0.2920" r="0.9469" fill="#4269fe"/><circle cx="-0.2034" cy="-0.2637" r="0.9569" fill="#4269fe"/><circle cx="-0.2034" cy="-0.2637" r="0.9569" fill="#4269fe"/><circle cx="-0.1814" cy="-0.2351" r="0.9659" fill="#4269fe"/><circle cx="-0.1814" cy="-0.2351" r="0.9659" fill="#3579fd"/><circle cx="-0.1591" cy="-0.2063" r="0.9739" fill="#3579fd"/><circle cx="-0.1591" cy="-0.2063" r="0.9739" fill="#3579fd"/><circle cx="-0.1367" cy="-0.1772" r="0.9808" fill="#3579fd"/><circle cx="-0.1367" cy="-0.1772" r="0.9808" fill="#3579fd"/><circle cx="-0.1142" cy="-0.1480" r="0.9866" fill="#3579fd"/><circle cx="-0.1142" cy="-0.1480" r="0.9866" fill="#3579fd"/><circle cx="-0.0915" cy="-0.1186" r="0.9914" fill="#3579fd"/><circle cx="-0.0915" cy="-0.1186" r="0.9914" fill="#2d88f6"/><circle cx="-0.0687" cy="-0.0890" r="0.9952" fill="#2d88f6"/><circle cx="-0.0687" cy="-0.0890" r="0.9952" fill="#2d88f6"/><circle cx="-0.0458" cy="-0.0594" r="0.9979" fill="#2d88f6"/><circle cx="-0.0458" cy="-0.0594" r="0.9979" fill="#2d88f6"/><circle cx="-0.0229" cy="-0.0297" r="0.9995" fill="#2d88f6"/><circle cx="-0.0229" cy="-0.0297" r="0.9995" fill="#2d88f6"/><circle cx="0.0000" cy="0.0000" r="1.0000" fill="#2d88f6"/><circle cx="0.0000" cy="0.0000" r="1.0000" fill="#2797eb"/><circle cx="0.0229" cy="0.0297" r="0.9995" fill="#2797eb"/><circle cx="0.0229" cy="0.0297" r="0.9995" fill="#2797eb"/><circle cx="0.0458" cy="0.0594" r="0.9979" fill="#2797eb"/><circle cx="0.0458" cy="0.0594" r="0.9979" fill="#2797eb"/><circle cx="0.0687" cy="0.0890" r="0.9952" fill="#2797eb"/><circle cx="0.0687" cy="0.0890" r="0.9952" fill="#2797eb"/><circle cx="0.0915" cy="0.1186" r="0.9914" fill="#2797eb"/><circle cx="0.0915" cy="0.1186" r="0.9914" fill="#21a3e3"/><circle cx="0.1142" cy="0.1480" r="0.9866" fill="#21a3e3"/><circle cx="0.1142" cy="0.1480" r="0.9866" fill="#21a3e3"/><circle cx="0.1367" cy="0.1772" r="0.9808" fill="#21a3e3"/><circle cx="0.1367" cy="0.1772" r="0.9808" fill="#21a3e3"/><circle cx="0.1591" cy="0.2063" r="0.9739" fill="#21a3e3"/><circle cx="0.1591" cy="0.2063" r="0.9739" fill="#21a3e3"/><circle cx="0.1814" cy="0.2351" r="0.9659" fill="#21a3e3"/><circle cx="0.1814" cy="0.2351" r="0.9659" fill="#15afd9"/><circle cx="0.2034" cy="0.2637" r="0.9569" fill="#15afd9"/><circle cx="0.2034" cy="0.2637" r="0.9569" fill="#15afd9"/><circle cx="0.2253" cy="0.2920" r="0.9469" fill="#15afd9"/><circle cx="0.2253" cy="0.2920" r="0.9469" fill="#15afd9"/><circle cx="0.2469" cy="0.3200" r="0.9359" fill="#15afd9"/><circle cx="0.2469" cy="0.3200" r="0.9359" fill="#15afd9"/><circle cx="0.2682" cy="0.3477" r="0.9239" fill="#15afd9"/><circle cx="0.2682" cy="0.3477" r="0.9239" fill="#01b8ca"/><circle cx="0.2892" cy="0.3749" r="0.9109" fill="#01b8ca"/><circle cx="0.2892" cy="0.3749" r="0.9109" fill="#01b8ca"/><circle cx="0.3100" cy="0.4018" r="0.8969" fill="#01b8ca"/><circle cx="0.3100" cy="0.4018" r="0.8969" fill="#01b8ca"/><circle cx="0.3304" cy="0.4283" r="0.8819" fill="#01b8ca"/><circle cx="0.3304" cy="0.4283" r="0.8819" fill="#01b8ca"/><circle cx="0.3504" cy="0.4543" r="0.8660" fill="#01b8ca"/><circle cx="0.3504" cy="0.4543" r="0.8660" fill="#12beb9"/><circle cx="0.3701" cy="0.4798" r="0.8492" fill="#12beb9"/><circle cx="0.3701" cy="0.4798" r="0.8492" fill="#12beb9"/><circle cx="0.3894" cy="0.5047" r="0.8315" fill="#12beb9"/><circle cx="0.3894" cy="0.5047" r="0.8315" fill="#12beb9"/><circle cx="0.4082" cy="0.5292" r="0.8128" fill="#12beb9"/><circle cx="0.4082" cy="0.5292" r="0.8128" fill="#12beb9"/><circle cx="0.4266" cy="0.5531" r="0.7934" fill="#12beb9"/><circle cx="0.4266" cy="0.5531" r="0.7934" fill="#2ac3a9"/><circle cx="0.4446" cy="0.5764" r="0.7730" fill="#2ac3a9"/><circle cx="0.4446" cy="0.5764" r="0.7730" fill="#2ac3a9"/><circle cx="0.4621" cy="0.5990" r="0.7518" fill="#2ac3a9"/><circle cx="0.4621" cy="0.5990" r="0.7518" fill="#2ac3a9"/><circle cx="0.4791" cy="0.6210" r="0.7299" fill="#2ac3a9"/><circle cx="0.4791" cy="0.6210" r="0.7299" fill="#2ac3a9"/><circle cx="0.4956" cy="0.6424" r="0.7071" fill="#2ac3a9"/><circle cx="0.4956" cy="0.6424" r="0.7071" fill="#36c898"/><circle cx="0.5115" cy="0.6631" r="0.6836" fill="#36c898"/><circle cx="0.5115" cy="0.6631" r="0.6836" fill="#36c898"/><circle cx="0.5269" cy="0.6831" r="0.6593" fill="#36c898"/><circle cx="0.5269" cy="0.6831" r="0.6593" fill="#36c898"/><circle cx="0.5417" cy="0.7023" r="0.6344" fill="#36c898"/><circle cx="0.5417" cy="0.7023" r="0.6344" fill="#36c898"/><circle cx="0.5560" cy="0.7208" r="0.6088" fill="#36c898"/><circle cx="0.5560" cy="0.7208" r="0.6088" fill="#46cb88"/><circle cx="0.5697" cy="0.7385" r="0.5825" fill="#46cb88"/><circle cx="0.5697" cy="0.7385" r="0.5825" fill="#46cb88"/><circle cx="0.5827" cy="0.7554" r="0.5556" fill="#46cb88"/><circle cx="0.5827" cy="0.7554" r="0.5556" fill="#46cb88"/><circle cx="0.5951" cy="0.7715" r="0.5281" fill="#46cb88"/><circle cx="0.5951" cy="0.7715" r="0.5281" fill="#46cb88"/><circle cx="0.6069" cy="0.7868" r="0.5000" fill="#46cb88"/><circle cx="0.6069" cy="0.7868" r="0.5000" fill="#59cc78"/><circle cx="0.6181" cy="0.8012" r="0.4714" fill="#59cc78"/><circle cx="0.6181" cy="0.8012" r="0.4714" fill="#59cc78"/><circle cx="0.6286" cy="0.8148" r="0.4423" fill="#59cc78"/><circle cx="0.6286" cy="0.8148" r="0.4423" fill="#59cc78"/><circle cx="0.6384" cy="0.8275" r="0.4127" fill="#59cc78"/><circle cx="0.6384" cy="0.8275" r="0.4127" fill="#59cc78"/><circle cx="0.6475" cy="0.8394" r="0.3827" fill="#59cc78"/><circle cx="0.6475" cy="0.8394" r="0.3827" fill="#69cd6a"/><circle cx="0.6559" cy="0.8503" r="0.3523" fill="#69cd6a"/><circle cx="0.6559" cy="0.8503" r="0.3523" fill="#69cd6a"/><circle cx="0.6636" cy="0.8603" r="0.3214" fill="#69cd6a"/><circle cx="0.6636" cy="0.8603" r="0.3214" fill="#69cd6a"/><circle cx="0.6706" cy="0.8694" r="0.2903" fill="#69cd6a"/><circle cx="0.6706" cy="0.8694" r="0.2903" fill="#69cd6a"/><circle cx="0.6769" cy="0.8776" r="0.2588" fill="#69cd6a"/><circle cx="0.6769" cy="0.8776" r="0.2588" fill="#76cc61"/><circle cx="0.6825" cy="0.8848" r="0.2271" fill="#76cc61"/><circle cx="0.6825" cy="0.8848" r="0.2271" fill="#76cc61"/><circle cx="0.6874" cy="0.8911" r="0.1951" fill="#76cc61"/><circle cx="0.6874" cy="0.8911" r="0.1951" fill="#76cc61"/><circle cx="0.6915" cy="0.8964" r="0.1629" fill="#76cc61"/><circle cx="0.6915" cy="0.8964" r="0.1629" fill="#76cc61"/><circle cx="0.6948" cy="0.9007" r="0.1305" fill="#76cc61"/><circle cx="0.6948" cy="0.9007" r="0.1305" fill="#7ecc5b"/><circle cx="0.6975" cy="0.9041" r="0.0980" fill="#7ecc5b"/><circle cx="0.6975" cy="0.9041" r="0.0980" fill="#7ecc5b"/><circle cx="0.6993" cy="0.9066" r="0.0654" fill="#7ecc5b"/><circle cx="0.6993" cy="0.9066" r="0.0654" fill="#7ecc5b"/><circle cx="0.7005" cy="0.9080" r="0.0327" fill="#7ecc5b"/><circle cx="0.7005" cy="0.9080" r="0.0327" fill="#7ecc5b"/><circle cx="0.7008" cy="0.9085" r="0.0005" fill="#7ecc5b"/></g></g>
<path d="M505.2 96.8L502.6 95.1M502.6 95.1L499.8 93.7M499.8 93.7L496.7 92.5M496.7 92.5L493.4 91.5M493.4 91.5L490 90.8M490 90.8L486.3 90.3M486.3 90.3L482.5 90.1M482.5 90.1L478.6 90.1M478.6 90.1L474.5 90.3M474.5 90.3L470.3 90.8M470.3 90.8L466 91.5M466 91.5L461.6 92.4M461.6 92.4L457.2 93.6M457.2 93.6L452.7 95M452.7 95L448.3 96.6M448.3 96.6L443.8 98.4M443.8 98.4L439.3 100.5M439.3 100.5L434.9 102.7M434.9 102.7L430.5 105.1M430.5 105.1L426.2 107.7M426.2 107.7L422 110.5M422 110.5L418 113.4M418 113.4L414 116.5M414 116.5L410.2 119.7M410.2 119.7L406.6 123M406.6 123L403.1 126.4M403.1 126.4L399.8 129.8M399.8 129.8L396.8 133.4M396.8 133.4L393.9 137M393.9 137L391.3 140.7M391.3 140.7L388.9 144.3M388.9 144.3L386.8 148M386.8 148L385 151.7M385 151.7L383.4 155.4M383.4 155.4L382.1 159M382.1 159L381.1 162.5M381.1 162.5L380.3 166M380.3 166L379.9 169.4M379.9 169.4L379.8 172.8M379.8 172.8L379.9 176M379.9 176L380.3 179M380.3 179L381.1 182M381.1 182L382.1 184.7M382.1 184.7L383.4 187.3M383.4 187.3L385 189.8M385 189.8L386.8 192M386.8 192L388.9 194.1M388.9 194.1L391.3 195.9M361.7 146.4L361.9 149.2M361.9 149.2L362.5 152M362.5 152L363.4 154.8M363.4 154.8L364.7 157.6M364.7 157.6L366.4 160.3M366.4 160.3L368.4 163M368.4 163L370.8 165.5M370.8 165.5L373.4 168M373.4 168L376.4 170.4M376.4 170.4L379.8 172.8M379.8 172.8L383.4 174.9M383.4 174.9L387.2 177M387.2 177L391.4 179M391.4 179L395.8 180.8M395.8 180.8L400.4 182.4M400.4 182.4L405.2 183.9M405.2 183.9L410.2 185.2M410.2 185.2L415.4 186.4M415.4 186.4L420.7 187.4M420.7 187.4L426.1 188.2M426.1 188.2L431.6 188.9M431.6 188.9L437.2 189.3M437.2 189.3L442.8 189.6M442.8 189.6L448.5 189.7M448.5 189.7L454.1 189.6M454.1 189.6L459.8 189.3M459.8 189.3L465.4 188.9M465.4 188.9L470.9 188.2M470.9 188.2L476.3 187.4M476.3 187.4L481.6 186.4M481.6 186.4L486.7 185.2M486.7 185.2L491.7 183.9M491.7 183.9L496.5 182.4M496.5 182.4L501.1 180.7M501.1 180.7L505.5 178.9M505.5 178.9L509.6 177M509.6 177L513.5 174.9M513.5 174.9L517 172.7M517 172.7L520.3 170.4M520.3 170.4L523.3 168M523.3 168L526 165.5M526 165.5L528.3 162.9M528.3 162.9L530.3 160.3M530.3 160.3L531.9 157.6M531.9 157.6L533.2 154.8M533.2 154.8L534.1 152M534.1 152L534.6 149.2M534.6 149.2L534.8 146.3" stroke="rgba(35,40,25,0.72)" stroke-width="0.7" fill="none"/>
<g fill="#0a0af5"><circle cx="425" cy="209.9" r="1.0"/><circle cx="440.4" cy="211.9" r="1.0"/><circle cx="456.4" cy="211.9" r="1.0"/><circle cx="471.8" cy="209.9" r="1.0"/><circle cx="406.6" cy="203.9" r="1.0"/><circle cx="422.2" cy="208.4" r="1.0"/><circle cx="439.5" cy="210.7" r="1.0"/><circle cx="457.4" cy="210.7" r="1.0"/><circle cx="474.7" cy="208.4" r="1.0"/><circle cx="490.2" cy="203.9" r="1.0"/><circle cx="388.9" cy="194.1" r="1.0"/><circle cx="402.8" cy="201" r="1.0"/><circle cx="419.8" cy="205.9" r="1.0"/><circle cx="438.7" cy="208.5" r="1.0"/><circle cx="458.2" cy="208.5" r="1.0"/><circle cx="477.1" cy="205.9" r="1.0"/><circle cx="494" cy="201" r="1.0"/><circle cx="507.8" cy="194.1" r="1.0"/><circle cx="385" cy="189.8" r="1.0"/><circle cx="399.8" cy="197.2" r="1.0"/><circle cx="417.9" cy="202.4" r="1.0"/><circle cx="438" cy="205.1" r="1.0"/><circle cx="458.9" cy="205.1" r="1.0"/><circle cx="479" cy="202.4" r="1.0"/><circle cx="497.1" cy="197.2" r="1.0"/><circle cx="511.8" cy="189.8" r="1.0"/><circle cx="522.2" cy="180.7" r="1.0"/><circle cx="374.5" cy="180.7" r="1.0"/><circle cx="382.1" cy="184.7" r="1.0"/><circle cx="397.6" cy="192.5" r="1.0"/><circle cx="416.5" cy="197.9" r="1.0"/><circle cx="437.6" cy="200.8" r="1.0"/><circle cx="459.4" cy="200.8" r="1.0"/><circle cx="480.4" cy="197.9" r="1.0"/><circle cx="499.3" cy="192.5" r="1.0"/><circle cx="514.7" cy="184.7" r="1.0"/><circle cx="525.6" cy="175.3" r="1.0"/><circle cx="371.1" cy="175.3" r="1.0"/><circle cx="380.3" cy="179" r="1.0"/><circle cx="396.2" cy="187" r="1.0"/><circle cx="415.6" cy="192.6" r="1.0"/><circle cx="437.3" cy="195.5" r="1.0"/><circle cx="459.7" cy="195.5" r="1.0"/><circle cx="481.3" cy="192.6" r="1.0"/><circle cx="500.7" cy="186.9" r="1.0"/><circle cx="516.4" cy="179" r="1.0"/><circle cx="527.6" cy="169.3" r="1.0"/><circle cx="533.3" cy="158.5" r="1.0"/><circle cx="363.2" cy="158.5" r="1.0"/><circle cx="369.1" cy="169.3" r="1.0"/><circle cx="379.8" cy="172.8" r="1.0"/><circle cx="395.8" cy="180.8" r="1.0"/><circle cx="415.4" cy="186.4" r="1.0"/><circle cx="437.2" cy="189.3" r="1.0"/><circle cx="459.8" cy="189.3" r="1.0"/><circle cx="481.6" cy="186.4" r="1.0"/><circle cx="501.1" cy="180.7" r="1.0"/><circle cx="517" cy="172.7" r="1.0"/><circle cx="528.3" cy="162.9" r="1.0"/><circle cx="534.1" cy="152" r="1.0"/><circle cx="362.5" cy="152" r="1.0"/><circle cx="368.4" cy="163" r="1.0"/><circle cx="380.3" cy="166" r="1.0"/><circle cx="396.2" cy="174" r="1.0"/><circle cx="415.6" cy="179.6" r="1.0"/><circle cx="437.3" cy="182.5" r="1.0"/><circle cx="459.7" cy="182.5" r="1.0"/><circle cx="481.3" cy="179.6" r="1.0"/><circle cx="500.7" cy="174" r="1.0"/><circle cx="516.4" cy="166" r="1.0"/><circle cx="527.6" cy="156.3" r="1.0"/><circle cx="533.3" cy="145.5" r="1.0"/><circle cx="363.2" cy="145.5" r="1.0"/><circle cx="369.1" cy="156.3" r="1.0"/><circle cx="382.1" cy="159" r="1.0"/><circle cx="397.6" cy="166.7" r="1.0"/><circle cx="416.5" cy="172.2" r="1.0"/><circle cx="437.6" cy="175" r="1.0"/><circle cx="459.4" cy="175" r="1.0"/><circle cx="480.4" cy="172.2" r="1.0"/><circle cx="499.3" cy="166.7" r="1.0"/><circle cx="514.7" cy="159" r="1.0"/><circle cx="525.6" cy="149.5" r="1.0"/><circle cx="531.1" cy="138.9" r="1.0"/><circle cx="531.1" cy="128" r="1.0"/><circle cx="365.4" cy="128" r="1.0"/><circle cx="365.4" cy="139" r="1.0"/><circle cx="371.1" cy="149.5" r="1.0"/><circle cx="385" cy="151.7" r="1.0"/><circle cx="399.8" cy="159.1" r="1.0"/><circle cx="417.9" cy="164.3" r="1.0"/><circle cx="438" cy="167" r="1.0"/><circle cx="458.9" cy="167" r="1.0"/><circle cx="479" cy="164.3" r="1.0"/><circle cx="497.1" cy="159.1" r="1.0"/><circle cx="511.8" cy="151.7" r="1.0"/><circle cx="522.2" cy="142.6" r="1.0"/><circle cx="527.5" cy="132.5" r="1.0"/><circle cx="527.5" cy="122.1" r="1.0"/><circle cx="369" cy="122.1" r="1.0"/><circle cx="369" cy="132.6" r="1.0"/><circle cx="374.5" cy="142.7" r="1.0"/><circle cx="388.9" cy="144.3" r="1.0"/><circle cx="402.8" cy="151.3" r="1.0"/><circle cx="419.8" cy="156.2" r="1.0"/><circle cx="438.7" cy="158.7" r="1.0"/><circle cx="458.2" cy="158.7" r="1.0"/><circle cx="477.1" cy="156.2" r="1.0"/><circle cx="494" cy="151.3" r="1.0"/><circle cx="507.8" cy="144.3" r="1.0"/><circle cx="517.6" cy="135.8" r="1.0"/><circle cx="522.6" cy="126.4" r="1.0"/><circle cx="522.5" cy="116.6" r="1.0"/><circle cx="517.4" cy="107.1" r="1.0"/><circle cx="379" cy="107.1" r="1.0"/><circle cx="373.9" cy="116.6" r="1.0"/><circle cx="374" cy="126.4" r="1.0"/><circle cx="379.1" cy="135.9" r="1.0"/><circle cx="393.9" cy="137" r="1.0"/><circle cx="406.6" cy="143.4" r="1.0"/><circle cx="422.2" cy="147.9" r="1.0"/><circle cx="439.5" cy="150.2" r="1.0"/><circle cx="457.4" cy="150.2" r="1.0"/><circle cx="474.7" cy="147.8" r="1.0"/><circle cx="490.2" cy="143.4" r="1.0"/><circle cx="502.8" cy="137" r="1.0"/><circle cx="511.7" cy="129.2" r="1.0"/><circle cx="516.3" cy="120.6" r="1.0"/><circle cx="516.3" cy="111.6" r="1.0"/><circle cx="511.6" cy="102.9" r="1.0"/><circle cx="502.6" cy="95.1" r="1.0"/><circle cx="393.7" cy="95.1" r="1.0"/><circle cx="384.8" cy="102.9" r="1.0"/><circle cx="380.2" cy="111.6" r="1.0"/><circle cx="380.2" cy="120.6" r="1.0"/><circle cx="384.9" cy="129.2" r="1.0"/><circle cx="399.8" cy="129.8" r="1.0"/><circle cx="411.1" cy="135.5" r="1.0"/><circle cx="425" cy="139.5" r="1.0"/><circle cx="440.4" cy="141.6" r="1.0"/><circle cx="456.4" cy="141.6" r="1.0"/><circle cx="471.8" cy="139.5" r="1.0"/><circle cx="485.6" cy="135.5" r="1.0"/><circle cx="496.9" cy="129.8" r="1.0"/><circle cx="504.8" cy="122.9" r="1.0"/><circle cx="508.9" cy="115.2" r="1.0"/><circle cx="508.9" cy="107.2" r="1.0"/><circle cx="504.7" cy="99.4" r="1.0"/><circle cx="496.7" cy="92.5" r="1.0"/><circle cx="485.4" cy="86.9" r="1.0"/><circle cx="410.9" cy="86.9" r="1.0"/><circle cx="399.6" cy="92.5" r="1.0"/><circle cx="391.7" cy="99.4" r="1.0"/><circle cx="387.6" cy="107.2" r="1.0"/><circle cx="387.6" cy="115.2" r="1.0"/><circle cx="391.8" cy="122.9" r="1.0"/><circle cx="406.6" cy="123" r="1.0"/><circle cx="416.3" cy="127.8" r="1.0"/><circle cx="428.2" cy="131.3" r="1.0"/><circle cx="441.5" cy="133.1" r="1.0"/><circle cx="455.3" cy="133.1" r="1.0"/><circle cx="468.5" cy="131.3" r="1.0"/><circle cx="480.4" cy="127.8" r="1.0"/><circle cx="490.1" cy="123" r="1.0"/><circle cx="497" cy="117" r="1.0"/><circle cx="500.5" cy="110.3" r="1.0"/><circle cx="500.5" cy="103.4" r="1.0"/><circle cx="496.9" cy="96.8" r="1.0"/><circle cx="490" cy="90.8" r="1.0"/><circle cx="480.2" cy="85.9" r="1.0"/><circle cx="468.3" cy="82.5" r="1.0"/><circle cx="455" cy="80.7" r="1.0"/><circle cx="441.3" cy="80.7" r="1.0"/><circle cx="428" cy="82.5" r="1.0"/><circle cx="416.1" cy="85.9" r="1.0"/><circle cx="406.4" cy="90.8" r="1.0"/><circle cx="399.5" cy="96.8" r="1.0"/><circle cx="396" cy="103.4" r="1.0"/><circle cx="396.1" cy="110.3" r="1.0"/><circle cx="399.7" cy="117" r="1.0"/><circle cx="414" cy="116.5" r="1.0"/><circle cx="422" cy="120.5" r="1.0"/><circle cx="431.8" cy="123.3" r="1.0"/><circle cx="442.7" cy="124.8" r="1.0"/><circle cx="454" cy="124.8" r="1.0"/><circle cx="464.9" cy="123.3" r="1.0"/><circle cx="474.7" cy="120.5" r="1.0"/><circle cx="482.6" cy="116.5" r="1.0"/><circle cx="488.3" cy="111.6" r="1.0"/><circle cx="491.2" cy="106.1" r="1.0"/><circle cx="491.1" cy="100.4" r="1.0"/><circle cx="488.2" cy="95" r="1.0"/><circle cx="482.5" cy="90.1" r="1.0"/><circle cx="474.5" cy="86.1" r="1.0"/><circle cx="464.7" cy="83.2" r="1.0"/><circle cx="453.8" cy="81.8" r="1.0"/><circle cx="442.5" cy="81.8" r="1.0"/><circle cx="431.6" cy="83.2" r="1.0"/><circle cx="421.8" cy="86.1" r="1.0"/><circle cx="413.9" cy="90.1" r="1.0"/><circle cx="408.3" cy="95" r="1.0"/><circle cx="405.4" cy="100.4" r="1.0"/><circle cx="405.4" cy="106.1" r="1.0"/><circle cx="408.3" cy="111.6" r="1.0"/><circle cx="422" cy="110.5" r="1.0"/><circle cx="428.2" cy="113.6" r="1.0"/><circle cx="435.7" cy="115.7" r="1.0"/><circle cx="444" cy="116.8" r="1.0"/><circle cx="452.7" cy="116.8" r="1.0"/><circle cx="461" cy="115.7" r="1.0"/><circle cx="468.5" cy="113.6" r="1.0"/><circle cx="474.6" cy="110.5" r="1.0"/><circle cx="478.9" cy="106.7" r="1.0"/><circle cx="481.1" cy="102.6" r="1.0"/><circle cx="481.1" cy="98.2" r="1.0"/><circle cx="478.8" cy="94" r="1.0"/><circle cx="474.5" cy="90.3" r="1.0"/><circle cx="468.3" cy="87.2" r="1.0"/><circle cx="460.9" cy="85.1" r="1.0"/><circle cx="452.5" cy="83.9" r="1.0"/><circle cx="443.9" cy="83.9" r="1.0"/><circle cx="435.5" cy="85.1" r="1.0"/><circle cx="428" cy="87.2" r="1.0"/><circle cx="421.9" cy="90.3" r="1.0"/><circle cx="417.6" cy="94" r="1.0"/><circle cx="415.4" cy="98.2" r="1.0"/><circle cx="415.4" cy="102.6" r="1.0"/><circle cx="417.7" cy="106.7" r="1.0"/><circle cx="430.5" cy="105.1" r="1.0"/><circle cx="434.7" cy="107.2" r="1.0"/><circle cx="439.7" cy="108.7" r="1.0"/><circle cx="445.4" cy="109.4" r="1.0"/><circle cx="451.2" cy="109.4" r="1.0"/><circle cx="456.9" cy="108.7" r="1.0"/><circle cx="461.9" cy="107.2" r="1.0"/><circle cx="466.1" cy="105.1" r="1.0"/><circle cx="469" cy="102.6" r="1.0"/><circle cx="470.5" cy="99.8" r="1.0"/><circle cx="470.5" cy="96.8" r="1.0"/><circle cx="468.9" cy="94" r="1.0"/><circle cx="466" cy="91.5" r="1.0"/><circle cx="461.8" cy="89.4" r="1.0"/><circle cx="456.8" cy="87.9" r="1.0"/><circle cx="451.1" cy="87.2" r="1.0"/><circle cx="445.3" cy="87.2" r="1.0"/><circle cx="439.6" cy="87.9" r="1.0"/><circle cx="434.6" cy="89.4" r="1.0"/><circle cx="430.5" cy="91.5" r="1.0"/><circle cx="427.5" cy="94" r="1.0"/><circle cx="426.1" cy="96.8" r="1.0"/><circle cx="426.1" cy="99.8" r="1.0"/><circle cx="427.6" cy="102.6" r="1.0"/><circle cx="439.3" cy="100.5" r="1.0"/><circle cx="441.4" cy="101.5" r="1.0"/><circle cx="444" cy="102.3" r="1.0"/><circle cx="446.8" cy="102.6" r="1.0"/><circle cx="449.8" cy="102.6" r="1.0"/><circle cx="452.6" cy="102.3" r="1.0"/><circle cx="455.2" cy="101.5" r="1.0"/><circle cx="457.2" cy="100.5" r="1.0"/><circle cx="458.7" cy="99.2" r="1.0"/><circle cx="459.5" cy="97.8" r="1.0"/><circle cx="459.5" cy="96.3" r="1.0"/><circle cx="458.7" cy="94.9" r="1.0"/><circle cx="457.2" cy="93.6" r="1.0"/><circle cx="455.1" cy="92.5" r="1.0"/><circle cx="452.6" cy="91.8" r="1.0"/><circle cx="449.7" cy="91.4" r="1.0"/><circle cx="446.8" cy="91.4" r="1.0"/><circle cx="443.9" cy="91.8" r="1.0"/><circle cx="441.4" cy="92.5" r="1.0"/><circle cx="439.3" cy="93.6" r="1.0"/><circle cx="437.8" cy="94.9" r="1.0"/><circle cx="437.1" cy="96.3" r="1.0"/><circle cx="437.1" cy="97.8" r="1.0"/><circle cx="437.8" cy="99.2" r="1.0"/><circle cx="448.3" cy="96.6" r="1.0"/></g>
<g font-size="11"><linearGradient id="cba" x1="0" y1="0" x2="0" y2="1"><stop offset="0%" stop-color="#f9fb15"/><stop offset="6.2%" stop-color="#f5e327"/><stop offset="12.5%" stop-color="#feca33"/><stop offset="18.8%" stop-color="#f1ba37"/><stop offset="25%" stop-color="#c8c129"/><stop offset="31.2%" stop-color="#94ca4a"/><stop offset="37.5%" stop-color="#5ccc76"/><stop offset="43.8%" stop-color="#34c79c"/><stop offset="50%" stop-color="#12beb9"/><stop offset="56.2%" stop-color="#0cb3d3"/><stop offset="62.5%" stop-color="#21a3e3"/><stop offset="68.8%" stop-color="#2c90f0"/><stop offset="75%" stop-color="#347afd"/><stop offset="81.2%" stop-color="#4562fc"/><stop offset="87.5%" stop-color="#484cef"/><stop offset="93.8%" stop-color="#4536d5"/><stop offset="100%" stop-color="#3e26a8"/></linearGradient>
<rect x="244.6" y="3.8" width="10.8" height="254.6" fill="url(#cba)" stroke="#4a4a3a" stroke-opacity="0.6" stroke-width="0.6"/>
<line x1="253.2" y1="3.8" x2="255.4" y2="3.8" stroke="#262626" stroke-width="0.6" stroke-opacity="0.7"/>
<text x="259.4" y="8">15</text>
<line x1="253.2" y1="46.2" x2="255.4" y2="46.2" stroke="#262626" stroke-width="0.6" stroke-opacity="0.7"/>
<text x="259.4" y="50.4">10</text>
<line x1="253.2" y1="88.7" x2="255.4" y2="88.7" stroke="#262626" stroke-width="0.6" stroke-opacity="0.7"/>
<text x="259.4" y="92.9">5</text>
<line x1="253.2" y1="131.1" x2="255.4" y2="131.1" stroke="#262626" stroke-width="0.6" stroke-opacity="0.7"/>
<text x="259.4" y="135.3">0</text>
<line x1="253.2" y1="173.5" x2="255.4" y2="173.5" stroke="#262626" stroke-width="0.6" stroke-opacity="0.7"/>
<text x="259.4" y="177.7">-5</text>
<line x1="253.2" y1="216" x2="255.4" y2="216" stroke="#262626" stroke-width="0.6" stroke-opacity="0.7"/>
<text x="259.4" y="220.2">-10</text>
<line x1="253.2" y1="258.4" x2="255.4" y2="258.4" stroke="#262626" stroke-width="0.6" stroke-opacity="0.7"/>
<text x="259.4" y="262.6">-15</text></g>
<g font-size="11"><linearGradient id="cbb" x1="0" y1="0" x2="0" y2="1"><stop offset="0%" stop-color="#f9fb15"/><stop offset="6.2%" stop-color="#f5e327"/><stop offset="12.5%" stop-color="#feca33"/><stop offset="18.8%" stop-color="#f1ba37"/><stop offset="25%" stop-color="#c8c129"/><stop offset="31.2%" stop-color="#94ca4a"/><stop offset="37.5%" stop-color="#5ccc76"/><stop offset="43.8%" stop-color="#34c79c"/><stop offset="50%" stop-color="#12beb9"/><stop offset="56.2%" stop-color="#0cb3d3"/><stop offset="62.5%" stop-color="#21a3e3"/><stop offset="68.8%" stop-color="#2c90f0"/><stop offset="75%" stop-color="#347afd"/><stop offset="81.2%" stop-color="#4562fc"/><stop offset="87.5%" stop-color="#484cef"/><stop offset="93.8%" stop-color="#4536d5"/><stop offset="100%" stop-color="#3e26a8"/></linearGradient>
<rect x="599.2" y="39.6" width="16" height="220" fill="url(#cbb)" stroke="#4a4a3a" stroke-opacity="0.6" stroke-width="0.6"/>
<line x1="613" y1="39.6" x2="615.2" y2="39.6" stroke="#262626" stroke-width="0.6" stroke-opacity="0.7"/>
<text x="619.2" y="43.8">2</text>
<line x1="613" y1="76.3" x2="615.2" y2="76.3" stroke="#262626" stroke-width="0.6" stroke-opacity="0.7"/>
<text x="619.2" y="80.5">1.5</text>
<line x1="613" y1="112.9" x2="615.2" y2="112.9" stroke="#262626" stroke-width="0.6" stroke-opacity="0.7"/>
<text x="619.2" y="117.1">1</text>
<line x1="613" y1="149.6" x2="615.2" y2="149.6" stroke="#262626" stroke-width="0.6" stroke-opacity="0.7"/>
<text x="619.2" y="153.8">0.5</text>
<line x1="613" y1="186.3" x2="615.2" y2="186.3" stroke="#262626" stroke-width="0.6" stroke-opacity="0.7"/>
<text x="619.2" y="190.5">0</text>
<line x1="613" y1="222.9" x2="615.2" y2="222.9" stroke="#262626" stroke-width="0.6" stroke-opacity="0.7"/>
<text x="619.2" y="227.1">-0.5</text>
<line x1="613" y1="259.6" x2="615.2" y2="259.6" stroke="#262626" stroke-width="0.6" stroke-opacity="0.7"/>
<text x="619.2" y="263.8">-1</text></g>
<g font-size="11.4"><text x="25.70" y="41.79" text-anchor="end" font-size="12.4">15</text>
<text x="25.70" y="69.43" text-anchor="end" font-size="12.4">10</text>
<text x="25.70" y="97.06" text-anchor="end" font-size="12.4">5</text>
<text x="25.70" y="124.70" text-anchor="end" font-size="12.4">0</text>
<text x="25.70" y="152.33" text-anchor="end" font-size="12.4">-5</text>
<text x="25.70" y="179.97" text-anchor="end" font-size="12.4">-10</text>
<text x="25.70" y="207.60" text-anchor="end" font-size="12.4">-15</text>
<text x="10.60" y="122.50" text-anchor="middle" font-size="12.8" transform="rotate(-90 10.6 122.5)">z/mm</text>
<text x="24.80" y="221.50" text-anchor="end" font-size="12.4">10</text>
<text x="63.70" y="246.75" text-anchor="end" font-size="12.4">0</text>
<text x="102.60" y="272.00" text-anchor="end" font-size="12.4">-10</text>
<text x="46.80" y="257.20" text-anchor="middle" font-size="12.8">y/mm</text>
<text x="117.50" y="273.70" font-size="12.4">-10</text>
<text x="167.97" y="254.05" font-size="12.4">0</text>
<text x="218.45" y="234.40" font-size="12.4">10</text>
<text x="174.40" y="265.30" text-anchor="middle" font-size="12.8">x/mm</text>
<text x="130.80" y="293.20" text-anchor="middle" font-size="18.2">(a)</text>
<text x="320.21" y="89.61" text-anchor="end" font-size="12.8">1</text>
<text x="320.21" y="139.36" text-anchor="end" font-size="12.8">0</text>
<text x="320.21" y="189.11" text-anchor="end" font-size="12.8">-1</text>
<text x="303.10" y="139.60" text-anchor="middle" font-size="13.4" transform="rotate(-90 303.1 139.6)">rz/degree</text>
<text x="319.21" y="203.31" text-anchor="end" font-size="12.8">1.5</text>
<text x="372.06" y="237.70" text-anchor="end" font-size="12.8">0</text>
<text x="424.90" y="272.10" text-anchor="end" font-size="12.8">-1.5</text>
<text x="347.60" y="252.50" text-anchor="middle" font-size="13.4">ry/degree</text>
<text x="439.40" y="273.70" font-size="12.8">-1.5</text>
<text x="507.91" y="247.30" font-size="12.8">0</text>
<text x="576.41" y="220.90" font-size="12.8">1.5</text>
<text x="515.10" y="262.60" text-anchor="middle" font-size="13.4">rx/degree</text>
<text x="452.70" y="294.00" text-anchor="middle" font-size="18.2">(b)</text></g>
</svg>
</body></html>
